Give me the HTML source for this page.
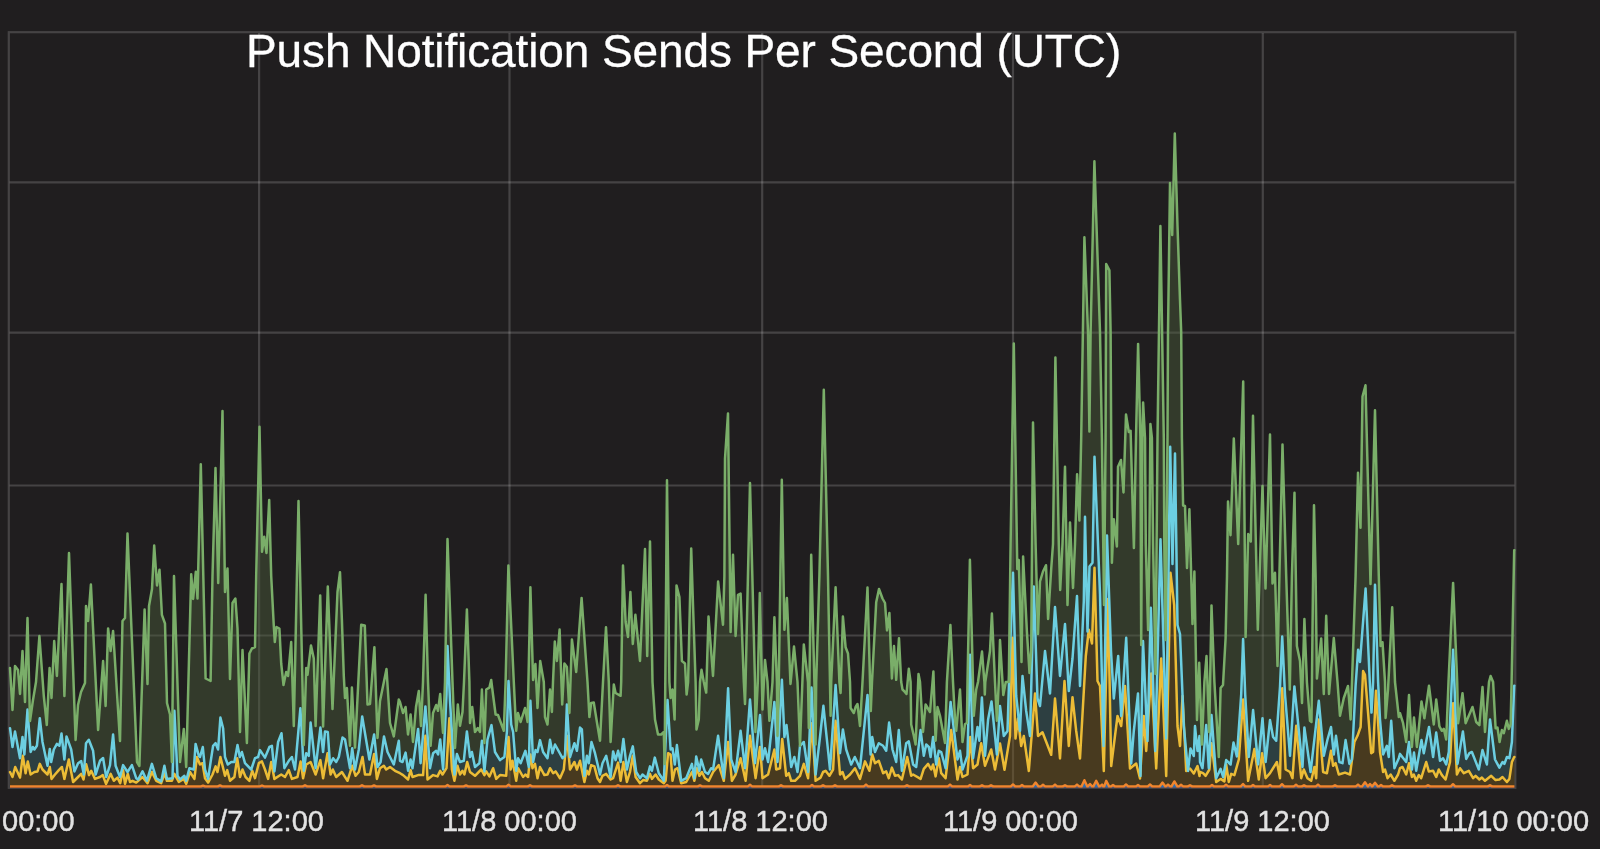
<!DOCTYPE html>
<html><head><meta charset="utf-8">
<style>
html,body{margin:0;padding:0;background:#201e1f;}
body{width:1600px;height:849px;overflow:hidden;position:relative;font-family:"Liberation Sans",sans-serif;}
svg{position:absolute;left:0;top:0;}
.t{position:absolute;white-space:nowrap;color:#fff;will-change:transform;-webkit-text-stroke:0.3px #fff;}
.lb{position:absolute;white-space:nowrap;color:#e2e2e2;-webkit-text-stroke:0.4px #e2e2e2;will-change:transform;font-size:29px;line-height:32px;top:805px;}
</style></head><body>
<svg width="1600" height="849" viewBox="0 0 1600 849">
<!--SERIES--><g id="grid" stroke="#ffffff" stroke-opacity="0.17" stroke-width="2.2" fill="none">
<path d="M259.1 33V787M509.5 33V787M762.2 33V787M1013 33V787M1262.8 33V787"/>
<path d="M9.5 182.4H1514.5M9.5 332.7H1514.5M9.5 485.5H1514.5M9.5 635.5H1514.5"/>
<rect x="8.8" y="32.2" width="1506.5" height="755.6"/>
</g>

<path d="M10 668L12.5 710L15 666L18 670L20 694L22.5 651L24.4 689.8L25 702L27.5 618L30 721L30.6 716.8L32.8 701.4L33 700L34.4 691.6L36 682L36.9 669.8L39.4 636L39.8 641.5L42.5 678.3L43.8 696L46.8 725L47.5 710.8L49.6 668L49.8 671.2L51.2 693.3L51.5 698L53.8 649.4L54.2 641L56.9 676L59.4 626L61.5 584L64.4 696L66.5 630.7L69 553L71.2 615.3L74.4 706L75.6 740L78 705L78.1 704.6L81 692L81.2 691.5L83.8 685.7L85 683L86 606L88.1 621L88.8 611.9L90.9 584.5L93.1 629L95.6 679.5L98.1 730L100 703.8L103.1 661L105.6 706L106.2 687.4L108.1 628.5L110 645.6L110.6 651L113.1 631L115.6 670.9L120 741L122.5 621L123.1 620.3L125 618L127.5 533.5L131.9 639.3L136.2 742.8L137 762L138.1 763.8L139.4 766L141.5 700L142.5 670.8L144.6 609.5L146.9 668.6L147.5 684L149 606L151.9 589.6L152 589L154.2 545.5L156.2 574.1L157 585.5L159.5 569.8L161.2 601.7L161.9 614.8L164.4 621.8L165 623.5L166.9 699L167 703L170 714.5L171.9 762L172.5 708.9L174 576L174.4 588.4L177.5 684.5L180 762L183.8 729L184.4 738.5L186.2 767L189.4 643.6L191.2 574.2L193.1 599L193.8 591.9L195.6 573.8L195.8 571.8L197.5 598.5L198.8 545.6L200 496.8L200.8 464.2L202.8 553.5L205 651.7L205.6 678.5L208.1 679.8L210.6 681L212.5 576L213.1 554.4L215.5 468L215.6 472.3L218.1 578.7L218.2 583L220.4 495L222.5 411L223.1 454.4L225 592L227.5 568.5L227.8 581.8L230 679L231.2 642.5L232.5 603L234.4 600.1L235.4 598.5L237.5 628.5L239.8 723.7L240 732L241.9 669.7L242.5 650L245 702.8L246.9 743L249.4 653.5L251.2 649.9L251.9 648.5L255 647L256.2 576L258.1 490.1L259.5 426.8L260 451.8L262 551.8L264.2 536.8L265 542.4L266.5 553L269.2 500L269.4 507.6L271.2 576L271.9 589.5L273.8 626L274.4 635.6L274.8 642L276.5 627L278.1 627.8L279.4 628.5L281.2 663.5L281.5 666.3L283.5 685L284.4 680.7L286.2 672L288.1 676L288.8 668.3L291.2 642L291.9 664.6L293.8 726L295 668.6L298.5 501L300.4 588.5L303.8 745L306.2 668L307.5 674.8L308.8 663.9L310.6 648.8L311 645.4L313.8 658.5L315.6 726L320.2 595.4L320.4 604.4L323.1 726.4L325 669.9L327.8 586.6L330 643.9L332.5 709L333.1 695L336.2 622.4L337.5 592L338.8 581.7L340 572.2L341.9 620L342.5 637.7L343.8 676L345 698L346.9 688L350 745.8L351.9 687.6L352.2 693.4L355 747.6L358.8 672.3L361.2 624.8L362.2 625L364.8 625.4L365 631.3L367.5 704.5L369.4 704.1L370 704L374.1 651.1L374.4 647.2L377.5 738L380 701L380.6 698L384 681.3L386.5 669L387.5 684.4L390 723L393.8 736.4L398.8 699.5L400 702L402.5 711.2L403 713L405.6 707L408 734.5L408.1 733.7L410.6 714.5L412.5 736.3L413 742L416 707L418.1 695L418.8 691L420.6 719.6L421 726L423 682L425.4 601.5L425.6 594.8L428 682L430 731.1L430.6 745.8L433 713L433.1 712.7L436.2 705L438 710.8L438.1 710L440.2 694L443 733L443.1 730.4L445 682L446.5 596.2L447.5 539L450 610.5L452.5 682L454.4 732.2L455 748L456.9 718.5L457.8 704.5L460 725.8L462.5 712L463.8 686L464 682L466.9 609.5L469.4 682L470 723L471.9 709.2L472.2 707L475 732L477.8 728L479.4 730.9L480 732L481.9 689.5L484.4 743L486.2 689.5L487.5 688.7L489.4 687.6L491.2 680L491.5 682.4L493 694.5L495 709.9L495.6 714.5L498 715L500 720.4L503.8 730.8L504.4 714.5L505.6 682L506.9 627.9L508.4 565.5L508.5 567.7L511.2 625.9L513.1 666.9L513.8 682L516.2 730.8L518 713L518.1 713.3L520.6 722L525 708L525.4 710.2L527.6 722L528.8 664.2L530.4 587.2L533.1 680L535.4 664L535.6 668.2L537.5 708L540 664.5L540.2 661L543.1 677.9L543.8 682L545 717L547.5 724.5L550 689.5L551.9 712L552.5 695.6L553 682L554.8 641.6L555 643.4L556.9 661L559.6 629.5L562.2 704.5L562.5 698.9L564.4 663.5L565 664.3L566.9 667L569.4 713L570 695.4L571.9 639.5L574.4 658.4L576.2 672L576.9 662.4L580 619.9L581.6 597.9L581.9 602.2L584.4 637.8L586.9 673.4L587.5 682L588.8 705.9L589.4 717L591.2 703L591.5 703L593.8 702.6L595 710.1L596.9 722L600 740.8L602.5 691.8L603 682L606 627.2L606.2 631.1L608.8 682L610.6 742L613.1 697.1L613.8 684.5L615.6 693L618.1 694.4L620.6 695.8L621.2 682L623 565.5L623.4 574.2L625.6 622L626.9 630.1L628 637L630 599.5L630.4 592L632.8 644L635.4 614.8L636.2 622.8L640 661L642.5 605.1L643.8 576L645 549L646.9 641.4L647.2 656L650 541.5L651.9 648.3L652.5 682L654.8 716.5L655 719.5L658 734.5L658.8 734.5L661.2 734.5L663.8 732L664.6 764L667 480.2L667.5 522.2L669.4 682L670.6 698L672.5 689.5L674.6 719.5L674.8 705.4L676.5 585.4L676.9 587L679.4 597L681.2 643.1L681.9 661L685 663.5L686.2 686.8L686.6 694.5L688.1 682L691.2 548.5L691.9 570.5L693 605L694.4 646.5L695.6 682L696.2 713.7L696.5 729.5L698.8 719.5L699.4 700.8L700 682L701.2 672.2L701.5 669.8L703.8 682L705 687.3L706.2 692.6L708.1 629.8L708.5 616.6L711.2 652.2L713 676L713.1 674.1L718.1 581.6L723 624.8L723.8 596.9L724.4 576L725 458.5L728 413.5L728.1 421.9L730.6 632L731.2 612.7L733 554.8L735.6 636L738 594.8L740.6 593.5L743.8 682L745 704L745.6 682L750 483L755 682L755.4 732L757.8 682L759.8 593L760 601.6L762.5 709.5L765 660L767.5 682L768.1 694.3L769.4 720.8L772.5 682L774.4 617.2L776.9 682L777.5 735.8L778.8 682L781.8 479.8L781.9 485.6L784.4 629.8L786.5 603.1L786.9 598L790.5 684L791.2 676.5L794 646.6L794.4 650.6L797.5 682L800 745.8L803.8 644.5L808 682L808.1 687.8L808.8 728L811.2 554.8L811.5 566.7L814.4 682L815.6 744.5L816.2 682L819.4 576L820 550.6L823.4 406.7L823.8 389.8L828 576L830 683.5L830.6 715.8L831.2 682L835.6 587.2L839.4 682L840 687.5L840.6 693L842.9 616.6L845.6 647.2L846.2 648.8L848 653.5L850 682L850.6 708L851.2 708.9L853.8 713L854.8 709.7L855.6 707L857.5 704L860 726L862.5 682L867.5 587.5L870.6 703.5L870.8 711L872 682L872.2 678.2L875 625L876.2 602.2L878.8 589.9L879 589L882.5 598.5L883.1 599.6L885 603L886.2 619.4L887 630.4L889.1 615.2L889.4 613L891.9 678.5L892.5 669.2L894 646L896.2 679.8L898.8 641.2L899 638.2L901.2 682L901.9 686L902.5 689.5L904.4 691.4L906.2 693.6L906.5 694L908.8 668.8L910.6 682L911.2 724.5L913.1 732.8L913.8 735.8L915.6 744.5L916.2 729.9L918.5 674L920 682L920.6 692L923 732L923.8 723.5L925.6 704.5L926.2 705.5L928.8 710L930 712L930.6 704.9L933.1 675.2L933.4 671.6L935.6 740.8L936.2 730.1L937.5 707L938.8 711.6L940 715.8L941.2 722.3L943 732L945 743L945.6 723.7L946.9 682L950.4 625L950.6 629.4L953 682L955 719.5L956.2 730.8L957.5 716.7L960 689.5L962.5 742L965 724L966.9 723L967.5 682L969.9 559.8L970 563.7L973 682L973.1 686.2L973.8 715.8L976.2 689.5L977.5 684.1L978 682L979.4 671.4L981.9 652.4L982 651.6L984.4 682L984.8 694.5L985 689.5L985.3 682L988.1 663.5L990 651L991.5 621.4L991.9 613.5L995 682L996.9 720.8L998.8 682L1000 640L1003.3 695L1003.8 692.4L1005.8 682L1007.5 682L1008.8 682L1010 590L1010.6 544L1013 393.6L1013.8 343.5L1016.2 498.7L1016.9 544L1017.3 569L1018.8 560L1020 605.3L1021.5 662L1022.5 596.1L1023.1 556.5L1026.2 617.7L1026.9 631.5L1029.5 673L1030 666.2L1031.2 650L1033 422.6L1033.8 460L1035.6 544L1037.5 615.3L1038 634L1040 581.5L1043 571.5L1045 567.3L1046 565.2L1048.1 619L1050 588.4L1051.2 569L1053 544L1055 388.7L1055.4 357.6L1058.8 544L1060 583.4L1060.2 590L1062.5 544L1065 466.8L1067.5 605L1068.8 562L1070 522.4L1072.5 577.1L1073 588L1075 544L1077 477.5L1077.1 474.2L1079.4 520.5L1080 493L1081.2 438L1083.8 274.9L1084.4 237.2L1085 253L1087.5 318.8L1088 332L1089.4 431.4L1089.5 423.1L1090.6 332L1092.5 246.6L1094.4 161.2L1094.5 164.2L1100 332L1101.9 438L1103.5 565.2L1104 605L1105.6 438L1106.2 264L1107 265.6L1109.4 270.4L1110.6 332L1111 402.7L1111.2 438L1111.9 562.8L1113.8 519.2L1116.9 546.5L1118 466.8L1118.2 466.3L1121 460L1121.2 462.6L1123.5 492.4L1126 414.5L1126.2 415.8L1128.8 432L1130.6 430.8L1131.2 452.8L1132.5 500.5L1133.8 544.6L1133.9 548L1136 438L1138 348.4L1138.1 343.9L1140.4 438L1140.5 463.9L1141.2 645L1142.3 438L1143 407L1143.1 402.6L1145 438L1145.8 544L1147.5 607.6L1148.1 630L1149.4 544L1150.4 423.9L1150.8 427.7L1151.9 438L1153.1 544L1155.2 657.8L1155.5 674L1157.5 438L1160.4 226L1160.5 232.2L1163.8 438L1164.3 544L1165.6 640L1166.2 576.2L1167.5 438L1168 332L1170 183L1170.2 187.7L1172.2 235L1172.5 223.3L1174.8 133.5L1175 140.4L1177.5 226L1180 300L1181.2 332L1181.9 438L1183.1 505.5L1183.8 505.7L1185 506L1187 568L1188 543.5L1189.4 509.2L1190.5 549.9L1192.5 624L1193.8 588.1L1194.4 571.5L1195 605.8L1197 720L1197.5 707L1199.2 662.8L1199.5 671.9L1200 687L1201.9 744.5L1202.5 729.5L1204.4 682L1206.2 659.7L1206.5 656L1208.8 720.7L1209.2 732L1211.5 605.4L1214.4 682L1216.2 712.7L1218.8 757L1220.6 688L1223 685L1223.1 683.2L1225.6 638L1226.2 611.4L1227 576L1228 501.5L1230.5 535.2L1230.6 532.3L1233.5 447.3L1233.8 438.5L1236.9 512.8L1238.2 544L1241.2 446.5L1243.1 384.8L1243.2 381.5L1245.2 594.4L1245.6 637L1248.2 534L1248.8 535.7L1250.8 541.5L1253 415.8L1253.1 420.3L1257.8 629.8L1258.1 620.6L1262.5 486L1265.5 588.5L1265.6 585.1L1270 434.5L1272.5 583.5L1273.1 580.9L1275 572.8L1276.2 617.5L1277.5 666L1279.4 576L1280 550.5L1282.2 457.2L1282.5 444.5L1285 533.4L1286.2 576L1289.8 689.5L1290 678.7L1291.9 576L1294.4 496L1294.5 492.8L1296.9 646L1300 661L1302 703L1302.5 685.5L1304.4 619L1306.9 682L1310 720.8L1310.6 721.3L1311.5 722L1313.1 576L1314 505.2L1315.6 576L1316.9 678.5L1318.8 660.8L1321.2 638.5L1323.8 694L1326.2 615.8L1327.5 652.1L1329 694L1331 670.7L1333.8 638L1336 664.2L1337.5 682L1339.4 707.7L1340 715.8L1342.5 704.1L1343.8 698L1345.6 692.9L1348 686L1349.4 704L1350.6 719.5L1351.9 684.7L1352 682L1355.6 576L1358 472.8L1358.1 475L1360 516.8L1360.5 527.8L1362.5 396.5L1365.5 385.2L1365.6 389.2L1369.8 556.2L1370.5 584L1371.5 545.4L1373.1 483.6L1375 410.2L1378.1 545.5L1378.8 576L1380 622.7L1380.6 646L1382.5 642.2L1383.1 651.8L1385 682L1385.6 718L1386.9 702.8L1388 690L1388.8 674.2L1391.2 626.9L1392.2 607.2L1394.4 666L1395 682L1398.8 717L1400 713.2L1403.1 723.2L1406.2 742L1409 695.1L1411.9 747L1414 717.6L1416.2 739.9L1416.9 747L1421.5 701.4L1423.8 714.7L1424.4 718.2L1429 685.8L1433.1 718.9L1433.8 724.5L1436.2 699.5L1439.4 726.4L1440 727.5L1441.9 730.8L1443.1 729.6L1443.8 728.9L1446.2 739.5L1448.5 682L1448.8 675.5L1453.1 582.9L1457.2 682L1457.5 695.7L1458.1 723.2L1462.5 693.2L1462.9 697.1L1465.6 723.2L1466.2 721.8L1469.4 714.3L1471.9 708.4L1472.5 707L1476.2 722L1478.8 724.5L1479.4 725.1L1482.5 687L1485 732L1486.9 708.2L1489 682L1490 678.2L1490.6 676L1493.1 682L1495 717.1L1495.6 728.2L1497.5 727.6L1499.4 740.6L1499.6 742L1501.9 730.1L1502.5 731.1L1503.8 733.2L1504.4 730.8L1506.9 720.8L1508.8 728.9L1509.4 727.4L1510.6 724.5L1511.6 682L1511.9 666.8L1514.2 550.2L1514.4 550.2L1514.4 685.8L1514.2 685.8L1511.9 742L1511.6 743.9L1510.6 750.4L1509.4 758.2L1508.8 757.9L1506.9 757L1504.4 763.9L1503.8 763.3L1502.5 762L1501.9 763.1L1499.6 767.2L1499.4 767.6L1497.5 764.1L1495.6 760.6L1495 759.5L1493.1 744.3L1490.6 724.3L1490 719.5L1489 734L1486.9 764.5L1485 758.3L1482.5 750.1L1479.4 766.4L1478.8 769.5L1476.2 762.9L1472.5 753.5L1471.9 752L1469.4 753.2L1466.2 758.9L1465.6 753.9L1462.9 731.4L1462.5 733.8L1458.1 760.3L1457.5 763.9L1457.2 756.1L1453.1 649.8L1448.8 752L1448.5 753.4L1446.2 764.5L1443.8 759.6L1443.1 758.2L1441.9 759.2L1440 760.8L1439.4 756.3L1436.2 732.6L1433.8 751.5L1433.1 757L1429 727L1424.4 750.2L1423.8 753.2L1421.5 740.1L1416.9 766.7L1416.2 770.8L1414 752.6L1411.9 769.5L1409 742L1406.2 762L1403.1 757.9L1400 753.9L1398.8 758.2L1395 766.8L1394.4 768.2L1392.2 735.6L1391.2 720.8L1388.8 757L1388 752.3L1386.9 745.8L1385.6 748.8L1385 750.1L1383.1 754.5L1382.5 747.7L1380.6 726.3L1380 719.5L1378.8 695.8L1378.1 682L1375 584.8L1373.1 682L1371.5 712.6L1370.5 694.6L1369.8 682L1365.6 588.5L1365.5 589.8L1362.5 629.2L1360.5 655.4L1360 662L1358.1 649.8L1358 651.2L1355.6 685.8L1352 757.5L1351.9 759.5L1350.6 761.8L1349.4 763.9L1348 755.1L1345.6 740.1L1343.8 753.5L1342.5 763.2L1340 762.2L1339.4 762L1337.5 747.4L1336 735.8L1333.8 754.5L1331 727L1329 734.1L1327.5 739.5L1326.2 745.2L1323.8 755.8L1321.2 727.2L1318.8 700.8L1316.9 717.3L1315.6 728.6L1314 742.5L1313.1 750.3L1311.5 764.2L1310.6 772L1310 767.7L1306.9 745.5L1304.4 727.6L1302.5 767L1302 762L1300 742.1L1296.9 711.3L1294.5 687.4L1294.4 686.4L1291.9 725.8L1290 755.8L1289.8 753.3L1286.2 709.2L1285 694.5L1282.5 642.8L1282.2 636.6L1280 687L1279.4 695.5L1277.5 722.4L1276.2 740.8L1275 739.3L1273.1 737L1272.5 733.7L1270 720.1L1265.6 762L1265.5 760.6L1262.5 718.2L1258.1 764.5L1257.8 761.2L1253.1 710.1L1253 711.2L1250.8 735.2L1248.8 757L1248.2 746.6L1245.6 701.4L1245.2 694.5L1243.2 641.6L1243.1 639L1241.2 694.5L1238.2 737.7L1236.9 756.4L1233.8 743.8L1233.5 742.6L1230.6 764.5L1230.5 764.4L1228 761.9L1227 760.9L1226.2 760.1L1225.6 763.4L1223.1 777L1223 776.7L1220.6 768.9L1218.8 772.7L1216.2 778.2L1214.4 754L1211.5 715.1L1209.2 760.3L1208.8 768.2L1206.5 730.1L1206.2 725.1L1204.4 746.1L1202.5 768.2L1201.9 766.7L1200 762L1199.5 736L1199.2 738.2L1197.5 751L1197 746L1195 726L1194.4 741L1193.8 756L1192.5 753L1190.5 748.5L1189.4 758.4L1188 771L1187 760.3L1185 738.9L1183.8 726L1183.1 709.1L1181.9 680L1181.2 663.1L1180 634L1177.5 625L1175 453.5L1174.8 462.3L1172.5 564L1172.2 548.7L1170.2 446.8L1170 461.4L1168 607.2L1167.5 643.7L1166.2 738.5L1165.6 717.5L1164.3 672.1L1163.8 654.6L1160.5 539.2L1160.4 543.2L1157.5 659.1L1155.5 739L1155.2 751L1153.1 682.7L1151.9 643.6L1150.8 607.8L1150.4 623.9L1149.4 664.3L1148.1 716.8L1147.5 741L1145.8 703.2L1145 685.4L1143.1 643.2L1143 641L1142.3 678.8L1141.2 738.2L1140.5 776L1140.4 772.7L1138.1 696.8L1138 693.5L1136 711.4L1133.9 730.1L1133.8 731L1132.5 747.2L1131.2 763.5L1130.6 748.4L1128.8 703.2L1126.2 637.8L1126 640.9L1123.5 680L1121.2 716L1121 712L1118.2 656L1118 657.9L1116.9 668.6L1113.8 698.5L1111.9 666.3L1111.2 654.4L1111 651L1110.6 639.4L1109.4 604.8L1107 535.5L1106.2 583.6L1105.6 619.7L1104 715.9L1103.5 746L1101.9 676.5L1100 594L1094.5 456.8L1094.4 462.1L1092.5 562.8L1090.6 565.1L1089.5 566.5L1089.4 569.7L1088 615.2L1087.5 631.5L1085 516.8L1084.4 558.9L1083.8 601L1081.2 659.2L1080 686L1079.4 668L1077.1 599L1077 596L1075 623.8L1073 651.6L1072.5 658.5L1070 680.5L1068.8 691L1067.5 668.1L1065 624L1062.5 650L1060.2 673.9L1060 676L1058.8 659.4L1055.4 612.5L1055 607L1053 641.6L1051.2 672.7L1050 693.5L1048.1 677.3L1046 659.5L1045 651L1043 673L1040 706L1038 700L1037.5 698.5L1035.6 641L1033.8 586.5L1033 618L1031.2 688.8L1030 736L1029.5 732.7L1026.9 715.6L1026.2 711L1023.1 681.7L1022.5 676L1021.5 698L1020 731L1018.8 719.9L1017.3 706.1L1016.9 702.4L1016.2 696L1013.8 603.6L1013 572.8L1010.6 635.4L1010 651L1008.8 689.4L1007.5 731L1005.8 733.3L1003.8 736L1003.3 732.1L1000 706L998.8 724.8L996.9 754.5L995 735.8L991.9 705.3L991.5 701.4L990 709.4L988.1 719.5L985.3 752.3L985 755.8L984.8 752L984.4 744.5L982 699.5L981.9 697.6L979.4 740.8L978 730.6L977.5 727L976.2 736.2L973.8 753.2L973.1 758.2L973 754.9L970 654.8L969.9 658.8L967.5 755.8L966.9 757.4L965 762.6L962.5 769.5L960 750.8L957.5 759.5L956.2 748.7L955 738.7L953 722L950.6 702L950.4 704.6L946.9 751L945.6 768.2L945 766L943 758.6L941.2 752L940 751.4L938.8 750.8L937.5 757.6L936.2 764.5L935.6 759.2L933.4 739.7L933.1 737L930.6 757L930 753.7L928.8 747L926.2 744.5L925.6 747.3L923.8 755.8L923 749.4L920.6 730.1L920 735.1L918.5 747.7L916.2 767L915.6 766.5L913.8 765.1L913.1 764.5L911.2 754.3L910.6 751.1L908.8 741.4L906.5 743L906.2 743.2L904.4 754.8L902.5 766.9L901.9 770.8L901.2 761.6L899 732.7L898.8 730.1L896.2 762L894 754.6L892.5 749.5L891.9 744.8L889.4 725L889.1 722.6L887 743L886.2 750.8L885 748.9L883.1 745.8L882.5 745.4L879 743.3L878.8 743.2L876.2 749.2L875 752L872.2 737L872 739.2L870.8 752.3L870.6 754.5L867.5 695.1L862.5 743.8L860 768.2L857.5 762.8L855.6 758.7L854.8 757L853.8 759.1L851.2 764.5L850.6 762.7L850 760.9L848 754.9L846.2 749.5L845.6 745.9L842.9 729.5L840.6 748.3L840 753.2L839.4 743.9L835.6 685.1L831.2 751.4L830.6 760.5L830 769.5L828 750.2L823.8 709.7L823.4 705.8L820 737L819.4 742.1L816.2 769.4L815.6 774.5L814.4 749.1L811.5 687.6L811.2 695L808.8 754.6L808.1 772L808 771.3L803.8 742L800 745.8L797.5 772L794.4 757L794 758.2L791.2 767L790.5 760.8L786.9 728.7L786.5 725.1L784.4 737L781.9 679.8L781.8 681.7L778.8 737.7L777.5 762L776.9 750.4L774.4 702L772.5 720.1L769.4 749.6L768.1 762L767.5 759.3L765 748.2L762.5 759.5L760 715.1L759.8 717L757.8 736.3L755.4 759.4L755 763.2L750 699.5L745.6 760L745 768.2L743.8 758L740.6 730.8L738 752.2L735.6 772L733 764.6L731.2 759.5L730.6 745.7L728.1 688.2L728 690.3L725 753.1L724.4 765.6L723.8 778.2L723 772.2L718.1 735.8L713.1 769.5L713 769.4L711.2 768.2L708.5 773.2L708.1 773.9L706.2 772.7L705 772L703.8 768.1L701.5 760.5L701.2 759.5L700 767L699.4 770.8L698.8 768.1L696.5 757.7L696.2 756.4L695.6 763.7L694.4 778.2L693 770.2L691.9 763.9L691.2 765.7L688.1 773.4L686.6 777.2L686.2 778.2L685 778.8L681.9 780.4L681.2 780.8L679.4 765.9L676.9 745.1L676.5 748.8L674.8 764.5L674.6 763.1L672.5 748.2L670.6 749.5L669.4 730.4L667.5 700.1L667 711L664.6 764L663.8 780.8L661.2 776.8L658.8 773.2L658 770.1L655 758.4L654.8 757.6L652.5 768.1L651.9 770.8L650 766.4L647.2 777.1L646.9 778.2L645 776.6L643.8 775.6L642.5 774.5L640 778.2L636.2 772L635.4 766L632.8 746.4L630.4 754.5L630 755.8L628 764.6L626.9 769.5L625.6 758.1L623.4 738.9L623 742.2L621.2 757L620.6 762L618.1 750.8L615.6 760.1L613.8 753.8L613.1 751.4L610.6 777L608.8 768.3L606.2 755.8L606 756.2L603 762.2L602.5 763.2L600 774.5L596.9 761.3L595 753.2L593.8 749.4L591.5 742L591.2 744.4L589.4 758.5L588.8 763.2L587.5 758.1L586.9 755.8L584.4 775.8L581.9 729.5L581.6 729.2L580 727.6L576.9 750.8L576.2 748.7L574.4 743.2L571.9 751L570 757L569.4 746.8L566.9 704.5L565 755.8L564.4 756.4L562.5 758.2L562.2 757.7L559.6 752.9L556.9 748L555 744.5L554.8 745.2L553 751.5L552.5 753.2L551.9 750L550 739.8L547.5 758.2L545 754.7L543.8 753L543.1 752L540.2 740.9L540 740.1L537.5 752L535.6 750.1L535.4 751.1L533.1 762L530.4 700.8L528.8 767L527.6 761.3L525.4 750.8L525 751.8L520.6 763.2L518.1 758.2L518 758.9L516.2 770.8L513.8 740.8L513.1 732L511.2 724.5L508.5 681L508.4 684.2L506.9 732L505.6 745L504.4 757L503.8 757.4L500 760.1L498 756.9L495.6 753L495 752L493 736.6L491.5 725.1L491.2 726.2L489.4 732.7L487.5 739.5L486.2 752.9L484.4 771.4L481.9 740.8L480 757.8L479.4 763.2L477.8 764.6L475 767L472.2 753.5L471.9 752L470 757L469.4 752L466.9 731.4L464 758.9L463.8 760.8L462.5 761.2L460 762L457.8 756.3L456.9 753.9L455 769.6L454.4 774.5L452.5 742.7L450 700.8L447.5 646L446.5 694.5L445 727.6L443.1 769.5L443 768.5L440.2 739.5L438.1 754.5L438 754.3L436.2 750.8L433.1 753.2L433 753.7L430.6 765.3L430 768.2L428 741.3L425.6 709.1L425.4 706.4L423 734.8L421 758.5L420.6 763.2L418.8 738.5L418.1 728.9L416 743.6L413 764.7L412.5 768.2L410.6 759.5L408.1 770.8L408 770.1L405.6 752.6L403 760.5L402.5 762L400 760.8L398.8 740.8L393.8 764.5L390 757L387.5 752L386.5 747.5L384 736.4L380.6 762L380 763L377.5 767L374.4 737.4L374.1 734.5L370 756.3L369.4 759.5L367.5 748.1L365 733.2L364.8 732L362.2 716.4L361.2 726.1L358.8 749.5L355 769.5L352.2 748.2L351.9 750.9L350 768.2L346.9 750.4L345 739.5L343.8 738.6L342.5 737.6L341.9 740.7L340 750.7L338.8 757L337.5 759.5L336.2 762L333.1 758.2L332.5 759.4L330 764.5L327.8 732L325 731.4L323.1 752L320.4 727.6L320.2 729.3L315.6 768.2L313.8 751.8L311 726.2L310.6 722.6L308.8 755.8L307.5 754.5L306.2 753.2L303.8 770.8L300.4 708.2L298.5 729.8L295 769.5L293.8 764.7L291.9 757L291.2 757.9L288.8 760.8L288.1 762L286.2 765.2L284.4 768.2L283.5 757.3L281.5 733.2L281.2 734L279.4 738.6L278.1 742L276.5 754.7L274.8 768.2L274.4 771.4L273.8 765.3L271.9 745.8L271.2 746.1L269.4 747L269.2 747.5L266.5 754L265 757.6L264.2 756.4L262 753.1L260 750.1L259.5 751.9L258.1 757L256.2 757.7L255 758.2L251.9 767.4L251.2 769.5L249.4 767.7L246.9 765.1L245 763.2L242.5 754.2L241.9 752L240 756.5L239.8 757L237.5 745.1L235.4 756.5L234.4 762L232.5 762L231.2 762L230 762.9L227.8 764.5L227.5 763.7L225 757L223.1 728.2L222.5 725.8L220.4 717.6L218.2 748.1L218.1 749.5L215.6 743.2L215.5 743.3L213.1 745.8L212.5 749.7L210.6 762L208.1 778.9L205.6 771.3L205 769.5L202.8 747L200.8 754.1L200 757L198.8 755.8L197.5 751L195.8 744.6L195.6 743.9L193.8 769.5L193.1 769.3L191.2 768.7L189.4 768.2L186.2 780.8L184.4 775.8L183.8 776.3L180 779.5L177.5 775.8L174.4 710.8L174 725L172.5 778.2L171.9 778.3L170 778.5L167 778.9L166.9 778.9L165 768.9L164.4 765.8L161.9 778L161.2 781.4L159.5 780.3L157 778.7L156.2 778.2L154.2 771.5L152 764.2L151.9 763.9L149 773.7L147.5 778.8L146.9 780.8L144.6 775.9L142.5 771.4L141.5 773.2L139.4 777.1L138.1 779.5L137 778.7L136.2 778.2L131.9 765.1L127.5 772L125 768.1L123.1 765.1L122.5 767.4L120 777L115.6 765.8L113.1 734.5L110.6 759.2L110 765.1L108.1 771.1L106.2 777L105.6 773.3L103.1 758L100 760.8L98.1 766.7L95.6 774.5L93.1 750.8L90.9 745.2L88.8 739.8L88.1 740.6L86 743.2L85 757.4L83.8 774.5L81.2 761L81 761.1L78.1 763.2L78 763.4L75.6 768.7L74.4 771.4L71.2 749.5L69 743.4L66.5 736.4L64.4 759.5L61.5 733.5L59.4 745.8L56.9 743.9L54.2 748.8L53.8 749.5L51.5 760.6L51.2 762L49.8 748.9L49.6 750.4L47.5 765.8L46.8 762.5L43.8 748.2L42.5 742L39.8 718.2L39.4 722L36.9 745.8L36 747.1L34.4 749.5L33 747.3L32.8 747L30.6 752L30 743.8L27.5 709.5L25 745.8L24.4 754.5L22.5 737L20 758.2L18 747.5L15 731.4L12.5 747L10 728.2Z" fill="rgb(76,95,61)" fill-opacity="0.43"/>
<path d="M10 728.2L12.5 747L15 731.4L15.2 732.5L20 758.2L22.5 737L22.8 739.8L24.4 754.5L25.6 737.1L27.5 709.5L27.8 713.6L30.6 752L32.8 747L34.4 749.5L36.9 745.8L37.5 740.1L39.8 718.2L42.5 742L47.5 765.8L49.8 748.9L51.2 762L51.5 760.6L53.8 749.5L55 747.3L56.9 743.9L58.8 745.3L59.4 745.8L61.5 733.5L61.9 737.1L64.4 759.5L66.5 736.4L68.8 742.8L71.2 749.5L73.1 762.5L74.4 771.4L78.1 763.2L81.2 761L83.5 772.9L83.8 774.5L86 743.2L86.2 743L88.8 739.8L89 740.3L91.2 745.9L93.1 750.8L95 768.8L95.6 774.5L100 760.8L102.8 758.3L103.1 758L106 775.8L106.2 777L110 765.1L110.6 759.2L113.1 734.5L113.8 743.3L115.6 765.8L117.5 770.6L120 777L120.2 776.2L123.1 765.1L125 768.1L127.5 772L127.8 771.5L130 768.1L131.9 765.1L132.5 766.9L136.2 778.2L138.1 779.5L142.5 771.4L146.9 780.8L147.5 778.8L151.9 763.9L156.2 778.2L161.2 781.4L164.4 765.8L164.8 767.9L166.9 778.9L171.9 778.3L172.5 778.2L174.4 710.8L177.5 775.8L178.8 777.7L180 779.5L183.8 776.3L184.4 775.8L186.2 780.8L189.4 768.2L190 768.4L193.8 769.5L194.4 761L195.6 743.9L196.9 748.7L198.8 755.8L200 757L202.5 748.1L202.8 747L205 769.5L208.1 778.9L210.6 762L212.5 749.7L213.1 745.8L215.6 743.2L217.5 748L218.1 749.5L220.4 717.6L223.1 728.2L225 757L227.2 762.9L227.8 764.5L230 762.9L231.2 762L234.4 762L237.2 746.7L237.5 745.1L239.8 757L240 756.5L241.9 752L242.5 754.2L245 763.2L245.6 763.8L249.4 767.7L251.2 769.5L252.2 766.5L255 758.2L258.1 757L258.8 754.5L260 750.1L261.9 753L265 757.6L268.1 750.1L269.4 747L271.2 746.1L271.9 745.8L274.4 771.4L278.1 742L281.2 734L281.5 733.2L284.4 768.2L285 767.2L288.8 760.8L291.9 757L295 769.5L297.5 741.1L300.4 708.2L300.6 711.9L303.1 757.9L303.8 770.8L306.2 753.2L308.8 755.8L310.6 722.6L315.6 768.2L320.4 727.6L323.1 752L325 731.4L327.5 731.9L327.8 732L330 764.5L330.6 763.3L332.8 758.8L333.1 758.2L336.2 762L338.8 757L341.9 740.7L342.5 737.6L345 739.5L347.5 753.9L350 768.2L352.2 748.2L355 769.5L355.6 766.3L358.8 749.5L362.2 716.4L362.5 718.2L365 733.2L369.4 759.5L370 756.3L374.1 734.5L376.9 761.3L377.5 767L380 763L380.6 762L383.8 737.9L384 736.4L386.2 746.2L387.5 752L390 757L393.8 764.5L395 758.8L398.8 740.8L400 760.8L402.5 762L403.1 760.2L405.6 752.6L408.1 770.8L410.6 759.5L412.5 768.2L418.1 728.9L420.6 763.2L423.1 733.6L425.4 706.4L427.5 734.6L430 768.2L433.1 753.2L436.2 750.8L437.5 753.3L438.1 754.5L440.2 739.5L442.5 763.3L443.1 769.5L446.5 694.5L447.5 646L449.4 687.6L450 700.8L451.9 732.6L454.4 774.5L456.9 753.9L457.5 755.5L460 762L462.5 761.2L463.8 760.8L464.4 755.1L466.9 731.4L467.2 733.9L470 757L471.9 752L475 767L479.4 763.2L481.2 747.1L481.9 740.8L484.4 771.4L486.2 752.9L487.5 739.5L489.4 732.7L491.5 725.1L493.1 737.4L495 752L496.2 753.9L500 760.1L504.4 757L506.2 739L506.9 732L508.5 681L510.6 714.8L511.2 724.5L512.5 729.6L513.1 732L516.2 770.8L518.1 758.2L520.6 763.2L523.1 756.7L525.4 750.8L528.1 763.7L528.8 767L530.4 700.8L532.5 748.4L533.1 762L535 753L535.6 750.1L537.5 752L540 740.1L543.1 752L544.4 753.8L547.5 758.2L550 739.8L552.5 753.2L553.1 751.1L555 744.5L555.6 745.6L560 753.6L562.5 758.2L563.8 757L565 755.8L566.9 704.5L570 757L574.4 743.2L576.9 750.8L580 727.6L581.9 729.5L584.4 775.8L586.9 755.8L588.8 763.2L591.2 744.4L591.5 742L594.4 751.3L595 753.2L597.5 763.9L600 774.5L602.5 763.2L606.2 755.8L610.6 777L613.1 751.4L615.6 760.1L618.1 750.8L620.6 762L623.4 738.9L626.9 769.5L630 755.8L632.8 746.4L635.6 767.5L636.2 772L640 778.2L642.5 774.5L643.1 775L646.9 778.2L650 766.4L651.9 770.8L654.8 757.6L655.6 760.7L658.8 773.2L663.8 780.8L665.6 741.5L667.5 700.1L668.1 709.7L670.6 749.5L672.5 748.2L674.8 764.5L675 762.7L676.9 745.1L677.5 750.1L681.2 780.8L686.2 778.2L691.9 763.9L694.4 778.2L696.2 756.4L696.9 759.5L699.4 770.8L701.2 759.5L701.9 761.8L705 772L708.1 773.9L708.8 772.6L711.2 768.2L713.1 769.5L718.1 735.8L718.8 741L723.8 778.2L728.1 688.2L731.2 759.5L731.9 761.5L735.6 772L740.6 730.8L745 768.2L745.6 760L750 699.5L755 763.2L755.6 757.4L760 715.1L762.5 759.5L765 748.2L768.1 762L774.4 702L776.2 736.8L777.5 762L780 715.3L781.9 679.8L782.2 686.7L784.4 737L786.2 726.8L786.5 725.1L788.8 745.6L791.2 767L794.4 757L795 759.9L797.5 772L800 745.8L803.8 742L808.1 772L811.5 687.6L811.9 696.1L815.6 774.5L820 737L820.6 731.5L823.1 708.6L823.4 705.8L825.6 727L829.4 763.7L830 769.5L833.1 722.8L835.6 685.1L840 753.2L842.5 732.8L842.9 729.5L845 742.2L846.2 749.5L850 760.9L851.2 764.5L854.8 757L855 757.4L860 768.2L865 719.5L867.5 695.1L869.4 731.5L870.6 754.5L872.2 737L875 752L878.8 743.2L883.1 745.8L886.2 750.8L888.8 725.5L889.1 722.6L891.9 744.8L892.5 749.5L895 757.9L896.2 762L898.1 738.7L898.8 730.1L901.9 770.8L906.2 743.2L907.2 742.5L908.8 741.4L911.2 754.3L913.1 764.5L916.2 767L920.6 730.1L923.8 755.8L926.2 744.5L928.1 746.3L928.8 747L930.6 757L931.2 752.2L933.1 737L935.6 759.2L936.2 764.5L938.8 750.8L941.2 752L945.6 768.2L950.6 702L951.2 707L957.5 759.5L960 750.8L962.5 769.5L967.5 755.8L970 654.8L970.2 661.5L973.1 758.2L977.5 727L979.4 740.8L981.2 709.7L981.9 697.6L985 755.8L988.1 719.5L991.2 703L991.5 701.4L995 735.8L996.9 754.5L1000 706L1003.8 736L1004.5 735.1L1007.5 731L1010 651L1012.5 585.8L1013 572.8L1015.5 669L1016.2 696L1018 712.6L1020 731L1021.2 704.6L1022.5 676L1023.8 688.3L1026.2 711L1028.8 728.1L1030 736L1033.8 586.5L1035 622.8L1037.5 698.5L1038 700L1040 706L1042.5 678.5L1045 651L1050 693.5L1051.2 672.7L1055 607L1060 676L1064.5 629.2L1065 624L1068.8 691L1072.5 658.5L1076.2 607.1L1077 596L1080 686L1083.8 601L1085 516.8L1085.8 553.5L1087.5 631.5L1088.8 589.3L1089.5 566.5L1092 563.4L1092.5 562.8L1094.5 456.8L1097.5 531.6L1100 594L1103.5 746L1103.8 728L1107 535.5L1108 564.4L1111 651L1111.2 654.4L1113.8 698.5L1117.5 662.8L1118.2 656L1121.2 716L1125 656.6L1126.2 637.8L1130 733.3L1131.2 763.5L1133.8 731L1136.2 709.6L1138 693.5L1140 759.5L1140.5 776L1143 641L1143.8 658.8L1146.2 712.1L1147.5 741L1150.8 607.8L1151.2 620.8L1155.2 751L1156.2 711L1160.5 539.2L1161.2 563.7L1166.2 738.5L1170.2 446.8L1170.5 462.1L1172.5 564L1174.2 488.9L1175 453.5L1177.5 625L1180 634L1182.5 694.5L1183.8 726L1186.2 751.7L1188 771L1190 753L1190.5 748.5L1193.8 756L1195 726L1197.5 751L1199.5 736L1200 762L1202.5 768.2L1203.1 761.2L1205.6 732.1L1206.2 725.1L1208.8 768.2L1209.4 756.4L1211.5 715.1L1216.2 778.2L1220.6 768.9L1223.1 777L1224.4 769.9L1226.2 760.1L1228.8 762.7L1230.6 764.5L1231.2 760L1233.5 742.6L1234.4 746.3L1236.9 756.4L1238.8 729L1241.2 694.5L1243.1 639L1245.2 694.5L1248.1 744.8L1248.8 757L1253.1 710.1L1254.4 724.2L1258.1 764.5L1258.8 757.1L1262.1 722.4L1262.5 718.2L1265.6 762L1270 720.1L1273.1 737L1276.2 740.8L1276.9 730.9L1280 687L1282.2 636.6L1285 694.5L1285.6 701.9L1290 755.8L1292.5 716.4L1294.4 686.4L1296.2 704.3L1301.2 754.1L1302.5 767L1303.8 740L1304.4 727.6L1307.5 749.8L1310.6 772L1311.2 766.8L1314.4 739L1316.2 723.4L1318.8 700.8L1323.1 748.1L1323.8 755.8L1326.9 742.1L1327.5 739.5L1331 727L1333.1 747.6L1333.8 754.5L1335.6 739.2L1336 735.8L1338.8 757.4L1339.4 762L1342.5 763.2L1345 744.6L1345.6 740.1L1349.4 763.9L1350 762.8L1351.9 759.5L1354.4 709.7L1355.6 685.8L1357.5 658.4L1358.1 649.8L1360 662L1360.6 654.1L1363.1 621.3L1365 596.4L1365.6 588.5L1368.1 644.2L1369.8 682L1371.2 707.2L1371.5 712.6L1373.1 682L1375 584.8L1376 616.2L1378.1 682L1380 719.5L1383.1 754.5L1385 750.1L1386.9 745.8L1387.5 749.3L1388.8 757L1390.6 729.9L1391.2 720.8L1394.4 768.2L1398.1 759.8L1398.8 758.2L1400 753.9L1402.5 757.2L1406.2 762L1409 742L1411.9 769.5L1413.8 754.2L1414 752.6L1416.2 770.8L1418.8 755.7L1421.2 741.8L1421.5 740.1L1423.8 753.2L1426.2 741.1L1428.8 728L1429 727L1433.1 757L1436.2 732.6L1438.8 751.9L1440 760.8L1441.9 759.2L1443.1 758.2L1445.6 763.3L1446.2 764.5L1448.8 752L1450 723.5L1453.1 649.8L1456.9 748.3L1457.5 763.9L1460 748.9L1462.9 731.4L1463.8 738.9L1466.2 758.9L1468.8 754.3L1469.4 753.2L1471.9 752L1473.1 755L1475.6 761.4L1478.8 769.5L1479.4 766.4L1481.9 753.2L1482.5 750.1L1485 758.3L1486.9 764.5L1490 719.5L1491.2 729.1L1495 759.5L1495.6 760.6L1499.4 767.6L1502.5 762L1504.4 763.9L1506.9 757L1509.4 758.2L1511.9 742L1514.2 685.8L1514.4 685.8L1514.4 757L1514.2 757L1511.9 762L1509.4 778.9L1506.9 782L1504.4 779.2L1502.5 777L1499.4 779.5L1495.6 780.1L1495 779.5L1491.2 775.8L1490 776.8L1486.9 779.3L1485 780.8L1482.5 778.2L1481.9 777.6L1479.4 779.5L1478.8 778.9L1475.6 775.8L1473.1 778.2L1471.9 776.1L1469.4 771.8L1468.8 770.8L1466.2 772L1463.8 773.2L1462.9 772L1460 768.2L1457.5 773.3L1456.9 774.5L1453.1 703.2L1450 762L1448.8 766.8L1446.2 777.1L1445.6 779.5L1443.1 776.5L1441.9 775.1L1440 771.7L1438.8 769.5L1436.2 777L1433.1 770.8L1429 771.4L1428.8 771.4L1426.2 762L1423.8 769.8L1421.5 777.2L1421.2 778.2L1418.8 775.1L1416.2 780.8L1414 775L1413.8 774.5L1411.9 777L1409 763.2L1406.2 774.5L1402.5 767L1400 768.2L1398.8 772.2L1398.1 774.5L1394.4 780.8L1391.2 775.5L1390.6 774.5L1388.8 776.6L1387.5 778.2L1386.9 776.1L1385 769.5L1383.1 772L1380 752L1378.1 722.9L1376 690.8L1375 711.9L1373.1 752L1371.5 753L1371.2 753.2L1369.8 735.1L1368.1 713.2L1365.6 682.2L1365 674.8L1363.1 671L1360.6 727L1360 728.7L1358.1 734.1L1357.5 735.8L1355.6 739.6L1354.4 742L1351.9 760.5L1350 774.5L1349.4 774.3L1345.6 772.8L1345 772.6L1342.5 773.4L1339.4 774.3L1338.8 774.5L1336 764.6L1335.6 763.2L1333.8 765.1L1333.1 765.8L1331 750.8L1327.5 769.9L1326.9 773.2L1323.8 772.2L1323.1 772L1318.8 719.5L1316.2 778.2L1314.4 767L1311.2 780.8L1310.6 780.4L1307.5 778.2L1304.4 770.9L1303.8 769.5L1302.5 773.9L1301.2 778.2L1296.2 725.8L1294.4 751.3L1292.5 778.2L1290 772L1285.6 769.5L1285 755.2L1282.2 688.2L1280 778.2L1276.9 762L1276.2 763.1L1273.1 768.2L1270 773.2L1265.6 778.2L1262.5 756.1L1262.1 753.2L1258.8 779.5L1258.1 774.6L1254.4 748.9L1253.1 755.5L1248.8 777.3L1248.1 780.8L1245.2 733.6L1243.1 699.5L1241.2 726L1238.8 759.5L1236.9 766.2L1234.4 775.1L1233.5 774.8L1231.2 773.9L1230.6 775.9L1228.8 782L1226.2 764.5L1224.4 781.4L1223.1 780.5L1220.6 778.9L1216.2 782L1211.5 743.2L1209.4 769.5L1208.8 770.5L1206.2 774.8L1205.6 775.8L1203.1 773.2L1202.5 773L1200 772L1199.5 776L1197.5 766L1195 771.1L1193.8 773.5L1190.5 769.2L1190 768.5L1188 771L1186.2 771L1183.8 726L1182.5 696L1180 746L1177.5 726L1175 634.5L1174.2 605.2L1172.5 590.3L1170.5 572.8L1170.2 587L1166.2 776L1161.2 658.5L1160.5 673.9L1156.2 768.5L1155.2 751L1151.2 673.5L1150.8 679.7L1147.5 741L1146.2 751L1143.8 716L1143 729.2L1140.5 776L1140 778.5L1138 770.6L1136.2 763.5L1133.8 765.4L1131.2 767.5L1130 768.5L1126.2 705.8L1125 686L1121.2 726L1118.2 717.9L1117.5 716L1113.8 745.4L1111.2 766L1111 755.6L1108 599L1107 640L1103.8 771L1103.5 764.3L1100 686L1097.5 681L1094.5 567.8L1092.5 628.4L1092 643.5L1089.5 632.8L1088.8 629.8L1087.5 641.2L1085.8 656L1085 670.1L1083.8 691.3L1080 758.5L1077 736.8L1076.2 731L1072.5 697.2L1068.8 746L1065 688.6L1064.5 681L1060 758.5L1055 698.5L1051.2 754.8L1050 751.7L1045 738.7L1042.5 732.2L1040 734.3L1038 736L1037.5 728.9L1035 693.5L1033.8 708.5L1030 756L1028.8 771L1026.2 752.8L1023.8 736L1022.5 741L1021.2 746L1020 735.7L1018 718.5L1016.2 732.9L1015.5 738.5L1013 654.6L1012.5 637.8L1010 736L1007.5 751.4L1004.5 769.8L1003.8 765.7L1000 743.5L996.9 759.6L995 769.5L991.5 751.1L991.2 749.5L988.1 757.6L985 765.8L981.9 747.4L981.2 743.2L979.4 753.6L977.5 764.5L973.1 768.2L970.2 737L970 739.8L967.5 774.5L962.5 777L960 767L957.5 779.5L951.2 730.1L950.6 735.3L945.6 778.2L941.2 773.2L938.8 758.2L936.2 773L935.6 776.4L933.1 764.5L931.2 769.5L930.6 768.4L928.8 765.2L928.1 763.9L926.2 766.1L923.8 768.9L920.6 778.9L916.2 776.3L913.1 774.5L911.2 775.8L908.8 764.5L907.2 757L906.2 761.2L901.9 779.5L898.8 775.9L898.1 775.1L896.2 775.5L895 775.8L892.5 769.2L891.9 767.6L889.1 777.2L888.8 778.2L886.2 771.4L883.1 773.2L878.8 760.8L875 763.2L872.2 754.5L870.6 763.8L869.4 770.8L867.5 766.7L865 761.4L860 778.9L855 768.2L854.8 768.5L851.2 773L850 774.5L846.2 777.8L845 778.9L842.9 773.1L842.5 772L840 774.5L835.6 720.8L833.1 769.5L830 774.8L829.4 775.8L825.6 770.8L823.4 771.9L823.1 772L820.6 777.6L820 778L815.6 780.8L811.9 723.2L811.5 729L808.1 778.2L803.8 763.9L800 775.8L797.5 778.3L795 780.8L794.4 780.8L791.2 780.8L788.8 773.2L786.5 775.5L786.2 775.8L784.4 759.2L782.2 738.9L781.9 742.9L780 768.2L777.5 769.1L776.2 769.5L774.4 749.5L768.1 774.5L765 776.5L762.5 778.2L760 747L755.6 778.2L755 773.7L750 735.8L745.6 780.8L745 778.1L740.6 758.2L735.6 774.5L731.9 780.8L731.2 773.7L728.1 742L723.8 780.8L718.8 765.1L718.1 765.9L713.1 772L711.2 775.9L708.8 780.8L708.1 780.3L705 778.2L701.9 772L701.2 773.1L699.4 775.8L696.9 768.2L696.2 771.7L694.4 780.8L691.9 772L686.2 782L681.2 783.2L677.5 768.2L676.9 768.5L675 769.5L674.8 770.4L672.5 780.8L670.6 754.5L668.1 753.2L667.5 759.8L665.6 780.8L663.8 783.2L658.8 779.5L655.6 774.5L654.8 775.5L651.9 778.9L650 773.9L646.9 780.8L643.1 780.1L642.5 780.7L640 783.2L636.2 777.8L635.6 777L632.8 755.8L630 772L626.9 782L623.4 762L620.6 780.8L618.1 762.6L615.6 770.4L613.1 778.2L610.6 779.5L606.2 773.9L602.5 775.8L600 782L597.5 778.2L595 768.7L594.4 766.4L591.5 765.2L591.2 765.1L588.8 774.5L586.9 770.8L584.4 782L581.9 770L580 760.8L576.9 769.5L574.4 762L570 769.5L566.9 735.8L565 756.5L563.8 769.5L562.5 772.5L560 778.2L555.6 771.4L555 771.8L553.1 773.2L552.5 772.2L550 768.2L547.5 774.5L544.4 775.1L543.1 772.7L540 767L537.5 778.2L535.6 767.3L535 763.9L533.1 767.2L532.5 768.2L530.4 754.5L528.8 770.2L528.1 777L525.4 774.5L523.1 777L520.6 772.6L518.1 768.2L516.2 780.8L513.1 764L512.5 760.8L511.2 766.8L510.6 769.5L508.5 737L506.9 764L506.2 775.8L504.4 775.6L500 775.1L496.2 778.9L495 774.8L493.1 768.2L491.5 771.7L489.4 776.4L487.5 773.4L486.2 771.4L484.4 775.1L481.9 770.7L481.2 769.5L479.4 771.3L475 775.8L471.9 773.4L470 772L467.2 762L466.9 763.3L464.4 774.5L463.8 773.3L462.5 770.8L460 774.5L457.5 765.8L456.9 768.7L454.4 780.8L451.9 769.5L450 730.5L449.4 718.2L447.5 751L446.5 768.2L443.1 773.6L442.5 774.5L440.2 770.8L438.1 775.2L437.5 776.4L436.2 776L433.1 775.1L430 777.5L427.5 779.5L425.4 735.8L423.1 775.1L420.6 775.1L418.1 775.1L412.5 777L410.6 770.1L408.1 779.5L405.6 777.3L403.1 775.1L402.5 774.7L400 773.2L398.8 772.6L395 770.8L393.8 769.9L390 767L387.5 768.6L386.2 769.5L384 766.1L383.8 765.8L380.6 767.8L380 768.2L377.5 776.8L376.9 778.9L374.1 753.9L370 774.5L369.4 774.5L365 774.5L362.5 757L362.2 758.2L358.8 772L355.6 775.8L355 774L352.2 765.8L350 772.8L347.5 780.8L345 776.9L342.5 772.9L341.9 772L338.8 774.7L336.2 777L333.1 770.2L332.8 769.5L330.6 774.5L330 770.4L327.8 755.3L327.5 753.2L325 767.4L323.1 778.2L320.4 760.1L315.6 774.5L310.6 762L308.8 763L306.2 764.5L303.8 775.1L303.1 778.2L300.6 761.4L300.4 762.4L297.5 777L295 777.8L291.9 778.9L288.8 770.1L285 777L284.4 776.6L281.5 774.7L281.2 774.5L278.1 776.5L274.4 778.9L271.9 765.7L271.2 762L269.4 771.8L268.1 778.9L265 769.5L261.9 761.4L260 762.5L258.8 763.2L258.1 766L255 778.2L252.2 770.8L251.2 774.4L249.4 780.8L245.6 777L245 775.5L242.5 769.5L241.9 771.3L240 777L239.8 775.7L237.5 760.2L237.2 758.2L234.4 777L231.2 779.8L230 780.8L227.8 772.4L227.2 770.1L225 775.8L223.1 768L220.4 757L218.1 768.9L217.5 772L215.6 766.4L213.1 772.9L212.5 774.5L210.6 778L208.1 782.6L205 778.2L202.8 765L202.5 763.2L200 764.5L198.8 761.6L196.9 757L195.6 768.4L194.4 778.9L193.8 778L190 772L189.4 773.9L186.2 783.9L184.4 780.1L183.8 778.9L180 781.3L178.8 782L177.5 779.6L174.4 773.9L172.5 779.1L171.9 780.8L166.9 780.8L164.8 773.2L164.4 774.3L161.2 783.2L156.2 780.8L151.9 772L147.5 783.2L146.9 782.5L142.5 777L138.1 780.9L136.2 782.6L132.5 780.8L131.9 781.1L130 782L127.8 773.9L127.5 775L125 783.9L123.1 770.1L120.2 783.2L120 782.8L117.5 777.6L115.6 779.2L113.8 780.8L113.1 779.3L110.6 773.9L110 775.2L106.2 783.5L106 783.9L103.1 775.9L102.8 775.1L100 777L95.6 778.7L95 778.9L93.1 774.8L91.2 770.8L89 775.1L88.8 774.3L86.2 764.2L86 765.3L83.8 777.8L83.5 779.5L81.2 773.9L78.1 777L74.4 780.7L73.1 782L71.2 772.1L68.8 759.5L66.5 769.6L64.4 778.9L61.9 767L61.5 767.4L59.4 769.5L58.8 770.1L56.9 772.3L55 774.5L53.8 776L51.5 778.9L51.2 776.8L49.8 767L47.5 774.5L42.5 769.5L39.8 763.9L37.5 771.4L36.9 771.5L34.4 772L32.8 773.1L30.6 774.5L27.8 761.4L27.5 763L25.6 773.2L24.4 765.7L22.8 755.8L22.5 758.1L20 777.6L15.2 767L15 767.7L12.5 777L10 772Z" fill="rgb(62,107,112)" fill-opacity="0.43"/>
<path d="M10 772L12.5 777L15.2 767L20 777.6L22.8 755.8L25.6 773.2L27.8 761.4L30.6 774.5L34.4 772L37.5 771.4L39.8 763.9L42.5 769.5L47.5 774.5L49.8 767L51.5 778.9L55 774.5L58.8 770.1L61.9 767L64.4 778.9L68.8 759.5L73.1 782L78.1 777L81.2 773.9L83.5 779.5L86.2 764.2L89 775.1L91.2 770.8L95 778.9L100 777L102.8 775.1L106 783.9L110.6 773.9L113.8 780.8L117.5 777.6L120.2 783.2L123.1 770.1L125 783.9L127.8 773.9L130 782L132.5 780.8L136.2 782.6L142.5 777L147.5 783.2L151.9 772L156.2 780.8L161.2 783.2L164.8 773.2L166.9 780.8L171.9 780.8L174.4 773.9L178.8 782L183.8 778.9L186.2 783.9L190 772L194.4 778.9L196.9 757L200 764.5L202.5 763.2L205 778.2L208.1 782.6L212.5 774.5L215.6 766.4L217.5 772L220.4 757L225 775.8L227.2 770.1L230 780.8L234.4 777L237.2 758.2L240 777L242.5 769.5L245.6 777L249.4 780.8L252.2 770.8L255 778.2L258.8 763.2L261.9 761.4L265 769.5L268.1 778.9L271.2 762L274.4 778.9L281.2 774.5L285 777L288.8 770.1L291.9 778.9L297.5 777L300.6 761.4L303.1 778.2L306.2 764.5L310.6 762L315.6 774.5L320.4 760.1L323.1 778.2L327.5 753.2L330.6 774.5L332.8 769.5L336.2 777L341.9 772L347.5 780.8L352.2 765.8L355.6 775.8L358.8 772L362.5 757L365 774.5L370 774.5L374.1 753.9L376.9 778.9L380 768.2L383.8 765.8L386.2 769.5L390 767L395 770.8L400 773.2L403.1 775.1L408.1 779.5L410.6 770.1L412.5 777L418.1 775.1L423.1 775.1L425.4 735.8L427.5 779.5L433.1 775.1L437.5 776.4L440.2 770.8L442.5 774.5L446.5 768.2L449.4 718.2L451.9 769.5L454.4 780.8L457.5 765.8L460 774.5L462.5 770.8L464.4 774.5L467.2 762L470 772L475 775.8L481.2 769.5L484.4 775.1L486.2 771.4L489.4 776.4L493.1 768.2L496.2 778.9L500 775.1L506.2 775.8L508.5 737L510.6 769.5L512.5 760.8L516.2 780.8L518.1 768.2L523.1 777L525.4 774.5L528.1 777L530.4 754.5L532.5 768.2L535 763.9L537.5 778.2L540 767L544.4 775.1L547.5 774.5L550 768.2L553.1 773.2L555.6 771.4L560 778.2L563.8 769.5L566.9 735.8L570 769.5L574.4 762L576.9 769.5L580 760.8L584.4 782L586.9 770.8L588.8 774.5L591.2 765.1L594.4 766.4L597.5 778.2L600 782L602.5 775.8L606.2 773.9L610.6 779.5L613.1 778.2L618.1 762.6L620.6 780.8L623.4 762L626.9 782L630 772L632.8 755.8L635.6 777L640 783.2L643.1 780.1L646.9 780.8L650 773.9L651.9 778.9L655.6 774.5L658.8 779.5L663.8 783.2L665.6 780.8L668.1 753.2L670.6 754.5L672.5 780.8L675 769.5L677.5 768.2L681.2 783.2L686.2 782L691.9 772L694.4 780.8L696.9 768.2L699.4 775.8L701.9 772L705 778.2L708.8 780.8L713.1 772L718.8 765.1L723.8 780.8L728.1 742L731.9 780.8L735.6 774.5L740.6 758.2L745.6 780.8L750 735.8L755.6 778.2L760 747L762.5 778.2L768.1 774.5L774.4 749.5L776.2 769.5L780 768.2L782.2 738.9L786.2 775.8L788.8 773.2L791.2 780.8L795 780.8L800 775.8L803.8 763.9L808.1 778.2L811.9 723.2L815.6 780.8L820.6 777.6L823.1 772L825.6 770.8L829.4 775.8L833.1 769.5L835.6 720.8L840 774.5L842.5 772L845 778.9L850 774.5L855 768.2L860 778.9L865 761.4L869.4 770.8L872.2 754.5L875 763.2L878.8 760.8L883.1 773.2L886.2 771.4L888.8 778.2L891.9 767.6L895 775.8L898.1 775.1L901.9 779.5L907.2 757L911.2 775.8L913.1 774.5L920.6 778.9L923.8 768.9L928.1 763.9L931.2 769.5L933.1 764.5L935.6 776.4L938.8 758.2L941.2 773.2L945.6 778.2L951.2 730.1L957.5 779.5L960 767L962.5 777L967.5 774.5L970.2 737L973.1 768.2L977.5 764.5L981.2 743.2L985 765.8L991.2 749.5L995 769.5L1000 743.5L1004.5 769.8L1010 736L1012.5 637.8L1015.5 738.5L1018 718.5L1021.2 746L1023.8 736L1028.8 771L1035 693.5L1038 736L1042.5 732.2L1051.2 754.8L1055 698.5L1060 758.5L1064.5 681L1068.8 746L1072.5 697.2L1076.2 731L1080 758.5L1085.8 656L1088.8 629.8L1092 643.5L1094.5 567.8L1097.5 681L1100 686L1103.8 771L1108 599L1111.2 766L1117.5 716L1121.2 726L1125 686L1130 768.5L1136.2 763.5L1140 778.5L1143.8 716L1146.2 751L1151.2 673.5L1156.2 768.5L1161.2 658.5L1166.2 776L1170.5 572.8L1174.2 605.2L1177.5 726L1180 746L1182.5 696L1186.2 771L1190 768.5L1193.8 773.5L1197.5 766L1199.5 776L1200 772L1203.1 773.2L1205.6 775.8L1209.4 769.5L1211.5 743.2L1216.2 782L1220.6 778.9L1224.4 781.4L1226.2 764.5L1228.8 782L1231.2 773.9L1234.4 775.1L1238.8 759.5L1243.1 699.5L1248.1 780.8L1254.4 748.9L1258.8 779.5L1262.1 753.2L1265.6 778.2L1270 773.2L1276.9 762L1280 778.2L1282.2 688.2L1285.6 769.5L1290 772L1292.5 778.2L1296.2 725.8L1301.2 778.2L1303.8 769.5L1307.5 778.2L1311.2 780.8L1314.4 767L1316.2 778.2L1318.8 719.5L1323.1 772L1326.9 773.2L1331 750.8L1333.1 765.8L1335.6 763.2L1338.8 774.5L1345 772.6L1350 774.5L1354.4 742L1357.5 735.8L1360.6 727L1363.1 671L1365 674.8L1368.1 713.2L1371.2 753.2L1373.1 752L1376 690.8L1380 752L1383.1 772L1385 769.5L1387.5 778.2L1390.6 774.5L1394.4 780.8L1398.1 774.5L1400 768.2L1402.5 767L1406.2 774.5L1409 763.2L1411.9 777L1413.8 774.5L1416.2 780.8L1418.8 775.1L1421.2 778.2L1426.2 762L1428.8 771.4L1433.1 770.8L1436.2 777L1438.8 769.5L1441.9 775.1L1445.6 779.5L1450 762L1453.1 703.2L1456.9 774.5L1460 768.2L1463.8 773.2L1468.8 770.8L1473.1 778.2L1475.6 775.8L1479.4 779.5L1481.9 777.6L1485 780.8L1491.2 775.8L1495.6 780.1L1499.4 779.5L1502.5 777L1506.9 782L1509.4 778.9L1511.9 762L1514.2 757L1514.4 757L1514.4 786.4L1514.2 786.4L1511.9 786.4L1509.4 786.4L1506.9 786.4L1502.5 786.4L1499.4 786.4L1495.6 786.4L1491.2 786.4L1485 786.4L1481.9 786.4L1479.4 786.4L1475.6 786.4L1473.1 786.4L1468.8 786.4L1463.8 786.4L1460 786.4L1456.9 786.4L1453.1 786.4L1450 786.4L1445.6 786.4L1441.9 786.4L1438.8 786.4L1436.2 786.4L1433.1 786.4L1428.8 786.4L1426.2 786.4L1421.2 786.4L1418.8 786.4L1416.2 786.4L1413.8 786.4L1411.9 786.4L1409 786.4L1406.2 786.4L1402.5 786.4L1400 786.4L1398.1 786.4L1394.4 786.4L1390.6 786.4L1387.5 786.4L1385 786.4L1383.1 786.4L1380 786.4L1376 786.4L1373.1 786.4L1371.2 786.4L1368.1 786.4L1365 786.4L1363.1 786.4L1360.6 786.4L1357.5 786.4L1354.4 786.4L1350 786.4L1345 786.4L1338.8 786.4L1335.6 786.4L1333.1 786.4L1331 786.4L1326.9 786.4L1323.1 786.4L1318.8 786.4L1316.2 786.4L1314.4 786.4L1311.2 786.4L1307.5 786.4L1303.8 786.4L1301.2 786.4L1296.2 786.4L1292.5 786.4L1290 786.4L1285.6 786.4L1282.2 786.4L1280 786.4L1276.9 786.4L1270 786.4L1265.6 786.4L1262.1 786.4L1258.8 786.4L1254.4 786.4L1248.1 786.4L1243.1 786.4L1238.8 786.4L1234.4 786.4L1231.2 786.4L1228.8 786.4L1226.2 786.4L1224.4 786.4L1220.6 786.4L1216.2 786.4L1211.5 786.4L1209.4 786.4L1205.6 786.4L1203.1 786.4L1200 786.4L1199.5 786.4L1197.5 786.4L1193.8 786.4L1190 786.4L1186.2 786.4L1182.5 786.4L1180 786.4L1177.5 786.4L1174.2 786.4L1170.5 786.4L1166.2 786.4L1161.2 786.4L1156.2 786.4L1151.2 786.4L1146.2 786.4L1143.8 786.4L1140 786.4L1136.2 786.4L1130 786.4L1125 786.4L1121.2 786.4L1117.5 786.4L1111.2 786.4L1108 786.4L1103.8 786.4L1100 786.4L1097.5 786.4L1094.5 786.4L1092 786.4L1088.8 786.4L1085.8 786.4L1080 786.4L1076.2 786.4L1072.5 786.4L1068.8 786.4L1064.5 786.4L1060 786.4L1055 786.4L1051.2 786.4L1042.5 786.4L1038 786.4L1035 786.4L1028.8 786.4L1023.8 786.4L1021.2 786.4L1018 786.4L1015.5 786.4L1012.5 786.4L1010 786.4L1004.5 786.4L1000 786.4L995 786.4L991.2 786.4L985 786.4L981.2 786.4L977.5 786.4L973.1 786.4L970.2 786.4L967.5 786.4L962.5 786.4L960 786.4L957.5 786.4L951.2 786.4L945.6 786.4L941.2 786.4L938.8 786.4L935.6 786.4L933.1 786.4L931.2 786.4L928.1 786.4L923.8 786.4L920.6 786.4L913.1 786.4L911.2 786.4L907.2 786.4L901.9 786.4L898.1 786.4L895 786.4L891.9 786.4L888.8 786.4L886.2 786.4L883.1 786.4L878.8 786.4L875 786.4L872.2 786.4L869.4 786.4L865 786.4L860 786.4L855 786.4L850 786.4L845 786.4L842.5 786.4L840 786.4L835.6 786.4L833.1 786.4L829.4 786.4L825.6 786.4L823.1 786.4L820.6 786.4L815.6 786.4L811.9 786.4L808.1 786.4L803.8 786.4L800 786.4L795 786.4L791.2 786.4L788.8 786.4L786.2 786.4L782.2 786.4L780 786.4L776.2 786.4L774.4 786.4L768.1 786.4L762.5 786.4L760 786.4L755.6 786.4L750 786.4L745.6 786.4L740.6 786.4L735.6 786.4L731.9 786.4L728.1 786.4L723.8 786.4L718.8 786.4L713.1 786.4L708.8 786.4L705 786.4L701.9 786.4L699.4 786.4L696.9 786.4L694.4 786.4L691.9 786.4L686.2 786.4L681.2 786.4L677.5 786.4L675 786.4L672.5 786.4L670.6 786.4L668.1 786.4L665.6 786.4L663.8 786.4L658.8 786.4L655.6 786.4L651.9 786.4L650 786.4L646.9 786.4L643.1 786.4L640 786.4L635.6 786.4L632.8 786.4L630 786.4L626.9 786.4L623.4 786.4L620.6 786.4L618.1 786.4L613.1 786.4L610.6 786.4L606.2 786.4L602.5 786.4L600 786.4L597.5 786.4L594.4 786.4L591.2 786.4L588.8 786.4L586.9 786.4L584.4 786.4L580 786.4L576.9 786.4L574.4 786.4L570 786.4L566.9 786.4L563.8 786.4L560 786.4L555.6 786.4L553.1 786.4L550 786.4L547.5 786.4L544.4 786.4L540 786.4L537.5 786.4L535 786.4L532.5 786.4L530.4 786.4L528.1 786.4L525.4 786.4L523.1 786.4L518.1 786.4L516.2 786.4L512.5 786.4L510.6 786.4L508.5 786.4L506.2 786.4L500 786.4L496.2 786.4L493.1 786.4L489.4 786.4L486.2 786.4L484.4 786.4L481.2 786.4L475 786.4L470 786.4L467.2 786.4L464.4 786.4L462.5 786.4L460 786.4L457.5 786.4L454.4 786.4L451.9 786.4L449.4 786.4L446.5 786.4L442.5 786.4L440.2 786.4L437.5 786.4L433.1 786.4L427.5 786.4L425.4 786.4L423.1 786.4L418.1 786.4L412.5 786.4L410.6 786.4L408.1 786.4L403.1 786.4L400 786.4L395 786.4L390 786.4L386.2 786.4L383.8 786.4L380 786.4L376.9 786.4L374.1 786.4L370 786.4L365 786.4L362.5 786.4L358.8 786.4L355.6 786.4L352.2 786.4L347.5 786.4L341.9 786.4L336.2 786.4L332.8 786.4L330.6 786.4L327.5 786.4L323.1 786.4L320.4 786.4L315.6 786.4L310.6 786.4L306.2 786.4L303.1 786.4L300.6 786.4L297.5 786.4L291.9 786.4L288.8 786.4L285 786.4L281.2 786.4L274.4 786.4L271.2 786.4L268.1 786.4L265 786.4L261.9 786.4L258.8 786.4L255 786.4L252.2 786.4L249.4 786.4L245.6 786.4L242.5 786.4L240 786.4L237.2 786.4L234.4 786.4L230 786.4L227.2 786.4L225 786.4L220.4 786.4L217.5 786.4L215.6 786.4L212.5 786.4L208.1 786.4L205 786.4L202.5 786.4L200 786.4L196.9 786.4L194.4 786.4L190 786.4L186.2 786.4L183.8 786.4L178.8 786.4L174.4 786.4L171.9 786.4L166.9 786.4L164.8 786.4L161.2 786.4L156.2 786.4L151.9 786.4L147.5 786.4L142.5 786.4L136.2 786.4L132.5 786.4L130 786.4L127.8 786.4L125 786.4L123.1 786.4L120.2 786.4L117.5 786.4L113.8 786.4L110.6 786.4L106 786.4L102.8 786.4L100 786.4L95 786.4L91.2 786.4L89 786.4L86.2 786.4L83.5 786.4L81.2 786.4L78.1 786.4L73.1 786.4L68.8 786.4L64.4 786.4L61.9 786.4L58.8 786.4L55 786.4L51.5 786.4L49.8 786.4L47.5 786.4L42.5 786.4L39.8 786.4L37.5 786.4L34.4 786.4L30.6 786.4L27.8 786.4L25.6 786.4L22.8 786.4L20 786.4L15.2 786.4L12.5 786.4L10 786.4Z" fill="rgb(125,95,33)" fill-opacity="0.43"/>
<path d="M10 772L12.5 777L15.2 767L20 777.6L22.8 755.8L25.6 773.2L27.8 761.4L30.6 774.5L34.4 772L37.5 771.4L39.8 763.9L42.5 769.5L47.5 774.5L49.8 767L51.5 778.9L55 774.5L58.8 770.1L61.9 767L64.4 778.9L68.8 759.5L73.1 782L78.1 777L81.2 773.9L83.5 779.5L86.2 764.2L89 775.1L91.2 770.8L95 778.9L100 777L102.8 775.1L106 783.9L110.6 773.9L113.8 780.8L117.5 777.6L120.2 783.2L123.1 770.1L125 783.9L127.8 773.9L130 782L132.5 780.8L136.2 782.6L142.5 777L147.5 783.2L151.9 772L156.2 780.8L161.2 783.2L164.8 773.2L166.9 780.8L171.9 780.8L174.4 773.9L178.8 782L183.8 778.9L186.2 783.9L190 772L194.4 778.9L196.9 757L200 764.5L202.5 763.2L205 778.2L208.1 782.6L212.5 774.5L215.6 766.4L217.5 772L220.4 757L225 775.8L227.2 770.1L230 780.8L234.4 777L237.2 758.2L240 777L242.5 769.5L245.6 777L249.4 780.8L252.2 770.8L255 778.2L258.8 763.2L261.9 761.4L265 769.5L268.1 778.9L271.2 762L274.4 778.9L281.2 774.5L285 777L288.8 770.1L291.9 778.9L297.5 777L300.6 761.4L303.1 778.2L306.2 764.5L310.6 762L315.6 774.5L320.4 760.1L323.1 778.2L327.5 753.2L330.6 774.5L332.8 769.5L336.2 777L341.9 772L347.5 780.8L352.2 765.8L355.6 775.8L358.8 772L362.5 757L365 774.5L370 774.5L374.1 753.9L376.9 778.9L380 768.2L383.8 765.8L386.2 769.5L390 767L395 770.8L400 773.2L403.1 775.1L408.1 779.5L410.6 770.1L412.5 777L418.1 775.1L423.1 775.1L425.4 735.8L427.5 779.5L433.1 775.1L437.5 776.4L440.2 770.8L442.5 774.5L446.5 768.2L449.4 718.2L451.9 769.5L454.4 780.8L457.5 765.8L460 774.5L462.5 770.8L464.4 774.5L467.2 762L470 772L475 775.8L481.2 769.5L484.4 775.1L486.2 771.4L489.4 776.4L493.1 768.2L496.2 778.9L500 775.1L506.2 775.8L508.5 737L510.6 769.5L512.5 760.8L516.2 780.8L518.1 768.2L523.1 777L525.4 774.5L528.1 777L530.4 754.5L532.5 768.2L535 763.9L537.5 778.2L540 767L544.4 775.1L547.5 774.5L550 768.2L553.1 773.2L555.6 771.4L560 778.2L563.8 769.5L566.9 735.8L570 769.5L574.4 762L576.9 769.5L580 760.8L584.4 782L586.9 770.8L588.8 774.5L591.2 765.1L594.4 766.4L597.5 778.2L600 782L602.5 775.8L606.2 773.9L610.6 779.5L613.1 778.2L618.1 762.6L620.6 780.8L623.4 762L626.9 782L630 772L632.8 755.8L635.6 777L640 783.2L643.1 780.1L646.9 780.8L650 773.9L651.9 778.9L655.6 774.5L658.8 779.5L663.8 783.2L665.6 780.8L668.1 753.2L670.6 754.5L672.5 780.8L675 769.5L677.5 768.2L681.2 783.2L686.2 782L691.9 772L694.4 780.8L696.9 768.2L699.4 775.8L701.9 772L705 778.2L708.8 780.8L713.1 772L718.8 765.1L723.8 780.8L728.1 742L731.9 780.8L735.6 774.5L740.6 758.2L745.6 780.8L750 735.8L755.6 778.2L760 747L762.5 778.2L768.1 774.5L774.4 749.5L776.2 769.5L780 768.2L782.2 738.9L786.2 775.8L788.8 773.2L791.2 780.8L795 780.8L800 775.8L803.8 763.9L808.1 778.2L811.9 723.2L815.6 780.8L820.6 777.6L823.1 772L825.6 770.8L829.4 775.8L833.1 769.5L835.6 720.8L840 774.5L842.5 772L845 778.9L850 774.5L855 768.2L860 778.9L865 761.4L869.4 770.8L872.2 754.5L875 763.2L878.8 760.8L883.1 773.2L886.2 771.4L888.8 778.2L891.9 767.6L895 775.8L898.1 775.1L901.9 779.5L907.2 757L911.2 775.8L913.1 774.5L920.6 778.9L923.8 768.9L928.1 763.9L931.2 769.5L933.1 764.5L935.6 776.4L938.8 758.2L941.2 773.2L945.6 778.2L951.2 730.1L957.5 779.5L960 767L962.5 777L967.5 774.5L970.2 737L973.1 768.2L977.5 764.5L981.2 743.2L985 765.8L991.2 749.5L995 769.5L1000 743.5L1004.5 769.8L1010 736L1012.5 637.8L1015.5 738.5L1018 718.5L1021.2 746L1023.8 736L1028.8 771L1035 693.5L1038 736L1042.5 732.2L1051.2 754.8L1055 698.5L1060 758.5L1064.5 681L1068.8 746L1072.5 697.2L1076.2 731L1080 758.5L1085.8 656L1088.8 629.8L1092 643.5L1094.5 567.8L1097.5 681L1100 686L1103.8 771L1108 599L1111.2 766L1117.5 716L1121.2 726L1125 686L1130 768.5L1136.2 763.5L1140 778.5L1143.8 716L1146.2 751L1151.2 673.5L1156.2 768.5L1161.2 658.5L1166.2 776L1170.5 572.8L1174.2 605.2L1177.5 726L1180 746L1182.5 696L1186.2 771L1190 768.5L1193.8 773.5L1197.5 766L1199.5 776L1200 772L1203.1 773.2L1205.6 775.8L1209.4 769.5L1211.5 743.2L1216.2 782L1220.6 778.9L1224.4 781.4L1226.2 764.5L1228.8 782L1231.2 773.9L1234.4 775.1L1238.8 759.5L1243.1 699.5L1248.1 780.8L1254.4 748.9L1258.8 779.5L1262.1 753.2L1265.6 778.2L1270 773.2L1276.9 762L1280 778.2L1282.2 688.2L1285.6 769.5L1290 772L1292.5 778.2L1296.2 725.8L1301.2 778.2L1303.8 769.5L1307.5 778.2L1311.2 780.8L1314.4 767L1316.2 778.2L1318.8 719.5L1323.1 772L1326.9 773.2L1331 750.8L1333.1 765.8L1335.6 763.2L1338.8 774.5L1345 772.6L1350 774.5L1354.4 742L1357.5 735.8L1360.6 727L1363.1 671L1365 674.8L1368.1 713.2L1371.2 753.2L1373.1 752L1376 690.8L1380 752L1383.1 772L1385 769.5L1387.5 778.2L1390.6 774.5L1394.4 780.8L1398.1 774.5L1400 768.2L1402.5 767L1406.2 774.5L1409 763.2L1411.9 777L1413.8 774.5L1416.2 780.8L1418.8 775.1L1421.2 778.2L1426.2 762L1428.8 771.4L1433.1 770.8L1436.2 777L1438.8 769.5L1441.9 775.1L1445.6 779.5L1450 762L1453.1 703.2L1456.9 774.5L1460 768.2L1463.8 773.2L1468.8 770.8L1473.1 778.2L1475.6 775.8L1479.4 779.5L1481.9 777.6L1485 780.8L1491.2 775.8L1495.6 780.1L1499.4 779.5L1502.5 777L1506.9 782L1509.4 778.9L1511.9 762L1514.2 757L1514.4 757" fill="none" stroke="#ecbc36" stroke-width="2.5" stroke-linejoin="round" stroke-linecap="round"/>
<path d="M10 728.2L12.5 747L15 731.4L20 758.2L22.5 737L24.4 754.5L27.5 709.5L30.6 752L32.8 747L34.4 749.5L36.9 745.8L39.8 718.2L42.5 742L47.5 765.8L49.8 748.9L51.2 762L53.8 749.5L56.9 743.9L59.4 745.8L61.5 733.5L64.4 759.5L66.5 736.4L71.2 749.5L74.4 771.4L78.1 763.2L81.2 761L83.8 774.5L86 743.2L88.8 739.8L93.1 750.8L95.6 774.5L100 760.8L103.1 758L106.2 777L110 765.1L113.1 734.5L115.6 765.8L120 777L123.1 765.1L127.5 772L131.9 765.1L136.2 778.2L138.1 779.5L142.5 771.4L146.9 780.8L151.9 763.9L156.2 778.2L161.2 781.4L164.4 765.8L166.9 778.9L172.5 778.2L174.4 710.8L177.5 775.8L180 779.5L184.4 775.8L186.2 780.8L189.4 768.2L193.8 769.5L195.6 743.9L198.8 755.8L200 757L202.8 747L205 769.5L208.1 778.9L210.6 762L213.1 745.8L215.6 743.2L218.1 749.5L220.4 717.6L223.1 728.2L225 757L227.8 764.5L231.2 762L234.4 762L237.5 745.1L239.8 757L241.9 752L245 763.2L251.2 769.5L255 758.2L258.1 757L260 750.1L265 757.6L269.4 747L271.9 745.8L274.4 771.4L278.1 742L281.5 733.2L284.4 768.2L288.8 760.8L291.9 757L295 769.5L300.4 708.2L303.8 770.8L306.2 753.2L308.8 755.8L310.6 722.6L315.6 768.2L320.4 727.6L323.1 752L325 731.4L327.8 732L330 764.5L333.1 758.2L336.2 762L338.8 757L342.5 737.6L345 739.5L350 768.2L352.2 748.2L355 769.5L358.8 749.5L362.2 716.4L365 733.2L369.4 759.5L374.1 734.5L377.5 767L380.6 762L384 736.4L387.5 752L393.8 764.5L398.8 740.8L400 760.8L402.5 762L405.6 752.6L408.1 770.8L410.6 759.5L412.5 768.2L418.1 728.9L420.6 763.2L425.4 706.4L430 768.2L433.1 753.2L436.2 750.8L438.1 754.5L440.2 739.5L443.1 769.5L446.5 694.5L447.5 646L450 700.8L454.4 774.5L456.9 753.9L460 762L463.8 760.8L466.9 731.4L470 757L471.9 752L475 767L479.4 763.2L481.9 740.8L484.4 771.4L487.5 739.5L491.5 725.1L495 752L500 760.1L504.4 757L506.9 732L508.5 681L511.2 724.5L513.1 732L516.2 770.8L518.1 758.2L520.6 763.2L525.4 750.8L528.8 767L530.4 700.8L533.1 762L535.6 750.1L537.5 752L540 740.1L543.1 752L547.5 758.2L550 739.8L552.5 753.2L555 744.5L562.5 758.2L565 755.8L566.9 704.5L570 757L574.4 743.2L576.9 750.8L580 727.6L581.9 729.5L584.4 775.8L586.9 755.8L588.8 763.2L591.5 742L595 753.2L600 774.5L602.5 763.2L606.2 755.8L610.6 777L613.1 751.4L615.6 760.1L618.1 750.8L620.6 762L623.4 738.9L626.9 769.5L630 755.8L632.8 746.4L636.2 772L640 778.2L642.5 774.5L646.9 778.2L650 766.4L651.9 770.8L654.8 757.6L658.8 773.2L663.8 780.8L667.5 700.1L670.6 749.5L672.5 748.2L674.8 764.5L676.9 745.1L681.2 780.8L686.2 778.2L691.9 763.9L694.4 778.2L696.2 756.4L699.4 770.8L701.2 759.5L705 772L708.1 773.9L711.2 768.2L713.1 769.5L718.1 735.8L723.8 778.2L728.1 688.2L731.2 759.5L735.6 772L740.6 730.8L745 768.2L750 699.5L755 763.2L760 715.1L762.5 759.5L765 748.2L768.1 762L774.4 702L777.5 762L781.9 679.8L784.4 737L786.5 725.1L791.2 767L794.4 757L797.5 772L800 745.8L803.8 742L808.1 772L811.5 687.6L815.6 774.5L820 737L823.4 705.8L830 769.5L835.6 685.1L840 753.2L842.9 729.5L846.2 749.5L851.2 764.5L854.8 757L860 768.2L867.5 695.1L870.6 754.5L872.2 737L875 752L878.8 743.2L883.1 745.8L886.2 750.8L889.1 722.6L892.5 749.5L896.2 762L898.8 730.1L901.9 770.8L906.2 743.2L908.8 741.4L913.1 764.5L916.2 767L920.6 730.1L923.8 755.8L926.2 744.5L928.8 747L930.6 757L933.1 737L936.2 764.5L938.8 750.8L941.2 752L945.6 768.2L950.6 702L957.5 759.5L960 750.8L962.5 769.5L967.5 755.8L970 654.8L973.1 758.2L977.5 727L979.4 740.8L981.9 697.6L985 755.8L988.1 719.5L991.5 701.4L996.9 754.5L1000 706L1003.8 736L1007.5 731L1010 651L1013 572.8L1016.2 696L1020 731L1022.5 676L1026.2 711L1030 736L1033.8 586.5L1037.5 698.5L1040 706L1045 651L1050 693.5L1055 607L1060 676L1065 624L1068.8 691L1072.5 658.5L1077 596L1080 686L1083.8 601L1085 516.8L1087.5 631.5L1089.5 566.5L1092.5 562.8L1094.5 456.8L1100 594L1103.5 746L1107 535.5L1111 651L1113.8 698.5L1118.2 656L1121.2 716L1126.2 637.8L1131.2 763.5L1133.8 731L1138 693.5L1140.5 776L1143 641L1147.5 741L1150.8 607.8L1155.2 751L1160.5 539.2L1166.2 738.5L1170.2 446.8L1172.5 564L1175 453.5L1177.5 625L1180 634L1183.8 726L1188 771L1190.5 748.5L1193.8 756L1195 726L1197.5 751L1199.5 736L1200 762L1202.5 768.2L1206.2 725.1L1208.8 768.2L1211.5 715.1L1216.2 778.2L1220.6 768.9L1223.1 777L1226.2 760.1L1230.6 764.5L1233.5 742.6L1236.9 756.4L1241.2 694.5L1243.1 639L1245.2 694.5L1248.8 757L1253.1 710.1L1258.1 764.5L1262.5 718.2L1265.6 762L1270 720.1L1273.1 737L1276.2 740.8L1280 687L1282.2 636.6L1285 694.5L1290 755.8L1294.4 686.4L1302.5 767L1304.4 727.6L1310.6 772L1318.8 700.8L1323.8 755.8L1327.5 739.5L1331 727L1333.8 754.5L1336 735.8L1339.4 762L1342.5 763.2L1345.6 740.1L1349.4 763.9L1351.9 759.5L1355.6 685.8L1358.1 649.8L1360 662L1365.6 588.5L1369.8 682L1371.5 712.6L1373.1 682L1375 584.8L1378.1 682L1380 719.5L1383.1 754.5L1386.9 745.8L1388.8 757L1391.2 720.8L1394.4 768.2L1398.8 758.2L1400 753.9L1406.2 762L1409 742L1411.9 769.5L1414 752.6L1416.2 770.8L1421.5 740.1L1423.8 753.2L1429 727L1433.1 757L1436.2 732.6L1440 760.8L1443.1 758.2L1446.2 764.5L1448.8 752L1453.1 649.8L1457.5 763.9L1462.9 731.4L1466.2 758.9L1469.4 753.2L1471.9 752L1478.8 769.5L1482.5 750.1L1486.9 764.5L1490 719.5L1495 759.5L1499.4 767.6L1502.5 762L1504.4 763.9L1506.9 757L1509.4 758.2L1511.9 742L1514.2 685.8L1514.4 685.8" fill="none" stroke="#6ccfe1" stroke-width="2.5" stroke-linejoin="round" stroke-linecap="round"/>
<path d="M10 668L12.5 710L15 666L18 670L20 694L22.5 651L25 702L27.5 618L30 721L33 700L36 682L39.4 636L43.8 696L46.8 725L49.6 668L51.5 698L54.2 641L56.9 676L61.5 584L64.4 696L69 553L75.6 740L78 705L81 692L85 683L86 606L88.1 621L90.9 584.5L98.1 730L103.1 661L105.6 706L108.1 628.5L110.6 651L113.1 631L120 741L122.5 621L125 618L127.5 533.5L137 762L139.4 766L141.5 700L144.6 609.5L147.5 684L149 606L152 589L154.2 545.5L157 585.5L159.5 569.8L161.9 614.8L165 623.5L167 703L170 714.5L171.9 762L174 576L180 762L183.8 729L186.2 767L191.2 574.2L193.1 599L195.8 571.8L197.5 598.5L200.8 464.2L205.6 678.5L210.6 681L212.5 576L215.5 468L218.2 583L222.5 411L225 592L227.5 568.5L230 679L232.5 603L235.4 598.5L237.5 628.5L240 732L242.5 650L246.9 743L249.4 653.5L251.9 648.5L255 647L256.2 576L259.5 426.8L262 551.8L264.2 536.8L266.5 553L269.2 500L271.2 576L273.8 626L274.8 642L276.5 627L279.4 628.5L281.2 663.5L283.5 685L286.2 672L288.1 676L291.2 642L293.8 726L298.5 501L303.8 745L306.2 668L307.5 674.8L311 645.4L313.8 658.5L315.6 726L320.2 595.4L323.1 726.4L327.8 586.6L332.5 709L337.5 592L340 572.2L341.9 620L343.8 676L345 698L346.9 688L350 745.8L351.9 687.6L355 747.6L361.2 624.8L364.8 625.4L367.5 704.5L370 704L374.4 647.2L377.5 738L380 701L386.5 669L390 723L393.8 736.4L398.8 699.5L400 702L403 713L405.6 707L408 734.5L410.6 714.5L413 742L416 707L418.8 691L421 726L423 682L425.6 594.8L428 682L430.6 745.8L433 713L436.2 705L438 710.8L440.2 694L443 733L445 682L447.5 539L452.5 682L455 748L457.8 704.5L460 725.8L462.5 712L464 682L466.9 609.5L469.4 682L470 723L472.2 707L475 732L477.8 728L480 732L481.9 689.5L484.4 743L486.2 689.5L489.4 687.6L491.2 680L493 694.5L495.6 714.5L498 715L503.8 730.8L505.6 682L508.4 565.5L513.8 682L516.2 730.8L518 713L520.6 722L525 708L527.6 722L530.4 587.2L533.1 680L535.4 664L537.5 708L540.2 661L543.8 682L545 717L547.5 724.5L550 689.5L551.9 712L553 682L554.8 641.6L556.9 661L559.6 629.5L562.2 704.5L564.4 663.5L566.9 667L569.4 713L571.9 639.5L576.2 672L581.6 597.9L587.5 682L589.4 717L591.2 703L593.8 702.6L596.9 722L600 740.8L603 682L606 627.2L608.8 682L610.6 742L613.8 684.5L615.6 693L620.6 695.8L621.2 682L623 565.5L625.6 622L628 637L630.4 592L632.8 644L635.4 614.8L640 661L643.8 576L645 549L647.2 656L650 541.5L652.5 682L655 719.5L658 734.5L661.2 734.5L663.8 732L664.6 764L667 480.2L669.4 682L670.6 698L672.5 689.5L674.6 719.5L676.5 585.4L679.4 597L681.9 661L685 663.5L686.6 694.5L688.1 682L691.2 548.5L693 605L695.6 682L696.5 729.5L698.8 719.5L700 682L701.5 669.8L703.8 682L706.2 692.6L708.5 616.6L713 676L718.1 581.6L723 624.8L724.4 576L725 458.5L728 413.5L730.6 632L733 554.8L735.6 636L738 594.8L740.6 593.5L743.8 682L745 704L745.6 682L750 483L755 682L755.4 732L757.8 682L759.8 593L762.5 709.5L765 660L767.5 682L769.4 720.8L772.5 682L774.4 617.2L776.9 682L777.5 735.8L778.8 682L781.8 479.8L784.4 629.8L786.9 598L790.5 684L794 646.6L797.5 682L800 745.8L803.8 644.5L808 682L808.8 728L811.2 554.8L814.4 682L815.6 744.5L816.2 682L819.4 576L823.8 389.8L828 576L830.6 715.8L831.2 682L835.6 587.2L839.4 682L840.6 693L842.9 616.6L845.6 647.2L848 653.5L850 682L850.6 708L853.8 713L855.6 707L857.5 704L860 726L862.5 682L867.5 587.5L870.8 711L872 682L876.2 602.2L879 589L882.5 598.5L885 603L887 630.4L889.4 613L891.9 678.5L894 646L896.2 679.8L899 638.2L901.2 682L902.5 689.5L904.4 691.4L906.5 694L908.8 668.8L910.6 682L911.2 724.5L913.8 735.8L915.6 744.5L918.5 674L920 682L923 732L925.6 704.5L930 712L933.4 671.6L935.6 740.8L937.5 707L940 715.8L943 732L945 743L946.9 682L950.4 625L953 682L955 719.5L956.2 730.8L960 689.5L962.5 742L965 724L966.9 723L967.5 682L969.9 559.8L973 682L973.8 715.8L976.2 689.5L978 682L982 651.6L984.4 682L984.8 694.5L985.3 682L990 651L991.9 613.5L995 682L996.9 720.8L998.8 682L1000 640L1003.3 695L1005.8 682L1008.8 682L1010.6 544L1013.8 343.5L1016.9 544L1017.3 569L1018.8 560L1021.5 662L1023.1 556.5L1026.9 631.5L1029.5 673L1031.2 650L1033 422.6L1035.6 544L1038 634L1040 581.5L1043 571.5L1046 565.2L1048.1 619L1051.2 569L1053 544L1055.4 357.6L1058.8 544L1060.2 590L1062.5 544L1065 466.8L1067.5 605L1070 522.4L1073 588L1075 544L1077.1 474.2L1079.4 520.5L1081.2 438L1084.4 237.2L1088 332L1089.4 431.4L1090.6 332L1094.4 161.2L1100 332L1101.9 438L1104 605L1105.6 438L1106.2 264L1109.4 270.4L1110.6 332L1111.2 438L1111.9 562.8L1113.8 519.2L1116.9 546.5L1118 466.8L1121 460L1123.5 492.4L1126 414.5L1128.8 432L1130.6 430.8L1132.5 500.5L1133.9 548L1136 438L1138.1 343.9L1140.4 438L1141.2 645L1142.3 438L1143.1 402.6L1145 438L1145.8 544L1148.1 630L1149.4 544L1150.4 423.9L1151.9 438L1153.1 544L1155.5 674L1157.5 438L1160.4 226L1163.8 438L1164.3 544L1165.6 640L1167.5 438L1168 332L1170 183L1172.2 235L1174.8 133.5L1177.5 226L1180 300L1181.2 332L1181.9 438L1183.1 505.5L1185 506L1187 568L1189.4 509.2L1192.5 624L1194.4 571.5L1197 720L1199.2 662.8L1201.9 744.5L1204.4 682L1206.5 656L1209.2 732L1211.5 605.4L1214.4 682L1218.8 757L1220.6 688L1223 685L1225.6 638L1227 576L1228 501.5L1230.5 535.2L1233.8 438.5L1238.2 544L1243.2 381.5L1245.6 637L1248.2 534L1250.8 541.5L1253 415.8L1257.8 629.8L1262.5 486L1265.5 588.5L1270 434.5L1272.5 583.5L1275 572.8L1277.5 666L1279.4 576L1282.5 444.5L1286.2 576L1289.8 689.5L1291.9 576L1294.5 492.8L1296.9 646L1300 661L1302 703L1304.4 619L1306.9 682L1310 720.8L1311.5 722L1313.1 576L1314 505.2L1315.6 576L1316.9 678.5L1321.2 638.5L1323.8 694L1326.2 615.8L1329 694L1333.8 638L1337.5 682L1340 715.8L1343.8 698L1348 686L1350.6 719.5L1352 682L1355.6 576L1358 472.8L1360.5 527.8L1362.5 396.5L1365.5 385.2L1370.5 584L1375 410.2L1378.8 576L1380.6 646L1382.5 642.2L1385 682L1385.6 718L1388 690L1392.2 607.2L1395 682L1398.8 717L1400 713.2L1403.1 723.2L1406.2 742L1409 695.1L1411.9 747L1414 717.6L1416.9 747L1421.5 701.4L1424.4 718.2L1429 685.8L1433.8 724.5L1436.2 699.5L1439.4 726.4L1441.9 730.8L1443.8 728.9L1446.2 739.5L1448.5 682L1453.1 582.9L1457.2 682L1458.1 723.2L1462.5 693.2L1465.6 723.2L1472.5 707L1476.2 722L1479.4 725.1L1482.5 687L1485 732L1489 682L1490.6 676L1493.1 682L1495.6 728.2L1497.5 727.6L1499.6 742L1501.9 730.1L1503.8 733.2L1506.9 720.8L1508.8 728.9L1510.6 724.5L1511.6 682L1514.2 550.2L1514.4 550.2" fill="none" stroke="#7aae69" stroke-width="2.5" stroke-linejoin="round" stroke-linecap="round"/>
<path d="M10.0 786.4L200.8 786.4L203.0 785.6L205.2 786.4L217.8 786.4L220.0 785.4L222.2 786.4L259.8 786.4L262.0 785.5L264.2 786.4L302.8 786.4L305.0 785.3L307.2 786.4L359.8 786.4L362.0 785.2L364.2 786.4L371.8 786.4L374.0 785.4L376.2 786.4L445.3 786.4L447.5 785.0L449.7 786.4L463.8 786.4L466.0 785.4L468.2 786.4L506.3 786.4L508.5 784.8L510.7 786.4L527.8 786.4L530.0 785.2L532.2 786.4L572.8 786.4L575.0 785.4L577.2 786.4L615.8 786.4L618.0 785.2L620.2 786.4L664.8 786.4L667.0 785.0L669.2 786.4L697.8 786.4L700.0 785.4L702.2 786.4L747.8 786.4L750.0 784.8L752.2 786.4L778.8 786.4L781.0 785.2L783.2 786.4L809.8 786.4L812.0 785.0L814.2 786.4L820.8 786.4L823.0 785.2L825.2 786.4L832.8 786.4L835.0 785.3L837.2 786.4L863.8 786.4L866.0 784.6L868.2 786.4L904.8 786.4L907.0 785.2L909.2 786.4L947.8 786.4L950.0 784.6L952.2 786.4L967.8 786.4L970.0 785.0L972.2 786.4L979.8 786.4L982.0 785.3L984.2 786.4L988.8 786.4L991.0 785.2L993.2 786.4L1010.8 786.4L1013.0 784.4L1015.2 786.4L1019.8 786.4L1022.0 785.0L1024.2 786.4L1032.7 786.4L1035.6 782.6L1038.5 786.4L1040.8 786.4L1043.0 784.8L1045.2 786.4L1052.8 786.4L1055.0 784.6L1057.2 786.4L1062.8 786.4L1065.0 785.2L1067.2 786.4L1074.8 786.4L1077.0 784.6L1079.2 786.4L1081.5 786.4L1084.4 780.2L1087.3 786.4L1087.8 786.4L1090.0 784.0L1092.2 786.4L1093.4 786.4L1096.2 780.8L1099.1 786.4L1099.8 786.4L1102.0 784.6L1103.4 786.4L1104.2 786.4L1106.2 780.8L1109.1 786.4L1110.8 786.4L1113.0 785.0L1115.2 786.4L1123.8 786.4L1126.0 784.4L1128.2 786.4L1135.8 786.4L1138.0 785.0L1140.2 786.4L1147.8 786.4L1150.0 784.4L1152.2 786.4L1159.6 786.4L1162.5 782.6L1165.4 786.4L1165.8 786.4L1168.0 784.6L1170.2 786.4L1171.5 786.4L1174.4 781.4L1177.3 786.4L1178.8 786.4L1181.0 784.8L1183.2 786.4L1187.8 786.4L1190.0 785.2L1192.2 786.4L1209.8 786.4L1212.0 785.0L1214.2 786.4L1223.8 786.4L1226.0 784.8L1228.2 786.4L1240.8 786.4L1243.0 784.0L1245.2 786.4L1250.8 786.4L1253.0 785.0L1255.2 786.4L1267.8 786.4L1270.0 785.0L1272.2 786.4L1279.8 786.4L1282.0 784.2L1284.2 786.4L1293.8 786.4L1296.0 784.8L1298.2 786.4L1301.8 786.4L1304.0 785.2L1306.2 786.4L1315.8 786.4L1318.0 784.6L1320.2 786.4L1332.8 786.4L1335.0 785.2L1337.2 786.4L1355.8 786.4L1358.0 784.6L1360.2 786.4L1362.1 786.4L1365.0 782.2L1367.8 786.4L1367.9 786.4L1370.0 784.0L1372.1 786.4L1372.2 786.4L1375.0 782.8L1377.9 786.4L1378.8 786.4L1381.0 785.0L1383.2 786.4L1389.8 786.4L1392.0 785.2L1394.2 786.4L1425.8 786.4L1428.0 785.2L1430.2 786.4L1450.8 786.4L1453.0 784.2L1455.2 786.4L1487.8 786.4L1490.0 785.2L1492.2 786.4L1514.4 786.4L1514.4 787.5L10 787.5Z" fill="#b5442e" stroke="none"/>
<path d="M10.0 787.4L200.8 787.4L203.0 787.2L205.2 787.4L217.8 787.4L220.0 787.0L222.2 787.4L259.8 787.4L262.0 787.1L264.2 787.4L302.8 787.4L305.0 786.9L307.2 787.4L359.8 787.4L362.0 786.8L364.2 787.4L371.8 787.4L374.0 787.0L376.2 787.4L445.3 787.4L447.5 786.6L449.7 787.4L463.8 787.4L466.0 787.0L468.2 787.4L506.3 787.4L508.5 786.4L510.7 787.4L527.8 787.4L530.0 786.8L532.2 787.4L572.8 787.4L575.0 787.0L577.2 787.4L615.8 787.4L618.0 786.8L620.2 787.4L664.8 787.4L667.0 786.6L669.2 787.4L697.8 787.4L700.0 787.0L702.2 787.4L747.8 787.4L750.0 786.4L752.2 787.4L778.8 787.4L781.0 786.8L783.2 787.4L809.8 787.4L812.0 786.6L814.2 787.4L820.8 787.4L823.0 786.8L825.2 787.4L832.8 787.4L835.0 786.9L837.2 787.4L863.8 787.4L866.0 786.2L868.2 787.4L904.8 787.4L907.0 786.8L909.2 787.4L947.8 787.4L950.0 786.2L952.2 787.4L967.8 787.4L970.0 786.6L972.2 787.4L979.8 787.4L982.0 786.9L984.2 787.4L988.8 787.4L991.0 786.8L993.2 787.4L1010.8 787.4L1013.0 786.0L1015.2 787.4L1019.8 787.4L1022.0 786.6L1024.2 787.4L1032.7 787.4L1035.6 784.2L1038.5 787.4L1040.8 787.4L1043.0 786.4L1045.2 787.4L1052.8 787.4L1055.0 786.2L1057.2 787.4L1062.8 787.4L1065.0 786.8L1067.2 787.4L1074.8 787.4L1077.0 786.2L1079.2 787.4L1081.5 787.4L1084.4 781.8L1087.3 787.4L1087.8 787.4L1090.0 785.6L1092.2 787.4L1093.4 787.4L1096.2 782.4L1099.1 787.4L1099.8 787.4L1102.0 786.2L1103.4 787.4L1104.2 787.4L1106.2 782.4L1109.1 787.4L1110.8 787.4L1113.0 786.6L1115.2 787.4L1123.8 787.4L1126.0 786.0L1128.2 787.4L1135.8 787.4L1138.0 786.6L1140.2 787.4L1147.8 787.4L1150.0 786.0L1152.2 787.4L1159.6 787.4L1162.5 784.2L1165.4 787.4L1165.8 787.4L1168.0 786.2L1170.2 787.4L1171.5 787.4L1174.4 783.0L1177.3 787.4L1178.8 787.4L1181.0 786.4L1183.2 787.4L1187.8 787.4L1190.0 786.8L1192.2 787.4L1209.8 787.4L1212.0 786.6L1214.2 787.4L1223.8 787.4L1226.0 786.4L1228.2 787.4L1240.8 787.4L1243.0 785.6L1245.2 787.4L1250.8 787.4L1253.0 786.6L1255.2 787.4L1267.8 787.4L1270.0 786.6L1272.2 787.4L1279.8 787.4L1282.0 785.8L1284.2 787.4L1293.8 787.4L1296.0 786.4L1298.2 787.4L1301.8 787.4L1304.0 786.8L1306.2 787.4L1315.8 787.4L1318.0 786.2L1320.2 787.4L1332.8 787.4L1335.0 786.8L1337.2 787.4L1355.8 787.4L1358.0 786.2L1360.2 787.4L1362.1 787.4L1365.0 783.8L1367.8 787.4L1367.9 787.4L1370.0 785.6L1372.1 787.4L1372.2 787.4L1375.0 784.4L1377.9 787.4L1378.8 787.4L1381.0 786.6L1383.2 787.4L1389.8 787.4L1392.0 786.8L1394.2 787.4L1425.8 787.4L1428.0 786.8L1430.2 787.4L1450.8 787.4L1453.0 785.8L1455.2 787.4L1487.8 787.4L1490.0 786.8L1492.2 787.4L1514.4 787.4L1514.4 787.6L10 787.6Z" fill="#2a6fb5" stroke="none"/>
<path d="M10.0 786.4L200.8 786.4L203.0 785.6L205.2 786.4L217.8 786.4L220.0 785.4L222.2 786.4L259.8 786.4L262.0 785.5L264.2 786.4L302.8 786.4L305.0 785.3L307.2 786.4L359.8 786.4L362.0 785.2L364.2 786.4L371.8 786.4L374.0 785.4L376.2 786.4L445.3 786.4L447.5 785.0L449.7 786.4L463.8 786.4L466.0 785.4L468.2 786.4L506.3 786.4L508.5 784.8L510.7 786.4L527.8 786.4L530.0 785.2L532.2 786.4L572.8 786.4L575.0 785.4L577.2 786.4L615.8 786.4L618.0 785.2L620.2 786.4L664.8 786.4L667.0 785.0L669.2 786.4L697.8 786.4L700.0 785.4L702.2 786.4L747.8 786.4L750.0 784.8L752.2 786.4L778.8 786.4L781.0 785.2L783.2 786.4L809.8 786.4L812.0 785.0L814.2 786.4L820.8 786.4L823.0 785.2L825.2 786.4L832.8 786.4L835.0 785.3L837.2 786.4L863.8 786.4L866.0 784.6L868.2 786.4L904.8 786.4L907.0 785.2L909.2 786.4L947.8 786.4L950.0 784.6L952.2 786.4L967.8 786.4L970.0 785.0L972.2 786.4L979.8 786.4L982.0 785.3L984.2 786.4L988.8 786.4L991.0 785.2L993.2 786.4L1010.8 786.4L1013.0 784.4L1015.2 786.4L1019.8 786.4L1022.0 785.0L1024.2 786.4L1032.7 786.4L1035.6 782.6L1038.5 786.4L1040.8 786.4L1043.0 784.8L1045.2 786.4L1052.8 786.4L1055.0 784.6L1057.2 786.4L1062.8 786.4L1065.0 785.2L1067.2 786.4L1074.8 786.4L1077.0 784.6L1079.2 786.4L1081.5 786.4L1084.4 780.2L1087.3 786.4L1087.8 786.4L1090.0 784.0L1092.2 786.4L1093.4 786.4L1096.2 780.8L1099.1 786.4L1099.8 786.4L1102.0 784.6L1103.4 786.4L1104.2 786.4L1106.2 780.8L1109.1 786.4L1110.8 786.4L1113.0 785.0L1115.2 786.4L1123.8 786.4L1126.0 784.4L1128.2 786.4L1135.8 786.4L1138.0 785.0L1140.2 786.4L1147.8 786.4L1150.0 784.4L1152.2 786.4L1159.6 786.4L1162.5 782.6L1165.4 786.4L1165.8 786.4L1168.0 784.6L1170.2 786.4L1171.5 786.4L1174.4 781.4L1177.3 786.4L1178.8 786.4L1181.0 784.8L1183.2 786.4L1187.8 786.4L1190.0 785.2L1192.2 786.4L1209.8 786.4L1212.0 785.0L1214.2 786.4L1223.8 786.4L1226.0 784.8L1228.2 786.4L1240.8 786.4L1243.0 784.0L1245.2 786.4L1250.8 786.4L1253.0 785.0L1255.2 786.4L1267.8 786.4L1270.0 785.0L1272.2 786.4L1279.8 786.4L1282.0 784.2L1284.2 786.4L1293.8 786.4L1296.0 784.8L1298.2 786.4L1301.8 786.4L1304.0 785.2L1306.2 786.4L1315.8 786.4L1318.0 784.6L1320.2 786.4L1332.8 786.4L1335.0 785.2L1337.2 786.4L1355.8 786.4L1358.0 784.6L1360.2 786.4L1362.1 786.4L1365.0 782.2L1367.8 786.4L1367.9 786.4L1370.0 784.0L1372.1 786.4L1372.2 786.4L1375.0 782.8L1377.9 786.4L1378.8 786.4L1381.0 785.0L1383.2 786.4L1389.8 786.4L1392.0 785.2L1394.2 786.4L1425.8 786.4L1428.0 785.2L1430.2 786.4L1450.8 786.4L1453.0 784.2L1455.2 786.4L1487.8 786.4L1490.0 785.2L1492.2 786.4L1514.4 786.4" stroke="#f0862e" stroke-width="2.4" fill="none" stroke-linejoin="round"/>
<!--/SERIES-->
</svg>
<div class="t" id="title" style="left:246px;top:26px;font-size:46px;line-height:50px;letter-spacing:-0.11px;">Push Notification Sends Per Second (UTC)</div>
<div class="lb" style="left:2px;">00:00</div>
<div class="lb" style="left:189.3px;">11/7 12:00</div>
<div class="lb" style="left:442.3px;">11/8 00:00</div>
<div class="lb" style="left:692.8px;">11/8 12:00</div>
<div class="lb" style="left:942.8px;">11/9 00:00</div>
<div class="lb" style="left:1195.3px;">11/9 12:00</div>
<div class="lb" style="left:1438.4px;">11/10 00:00</div>
</body></html>
